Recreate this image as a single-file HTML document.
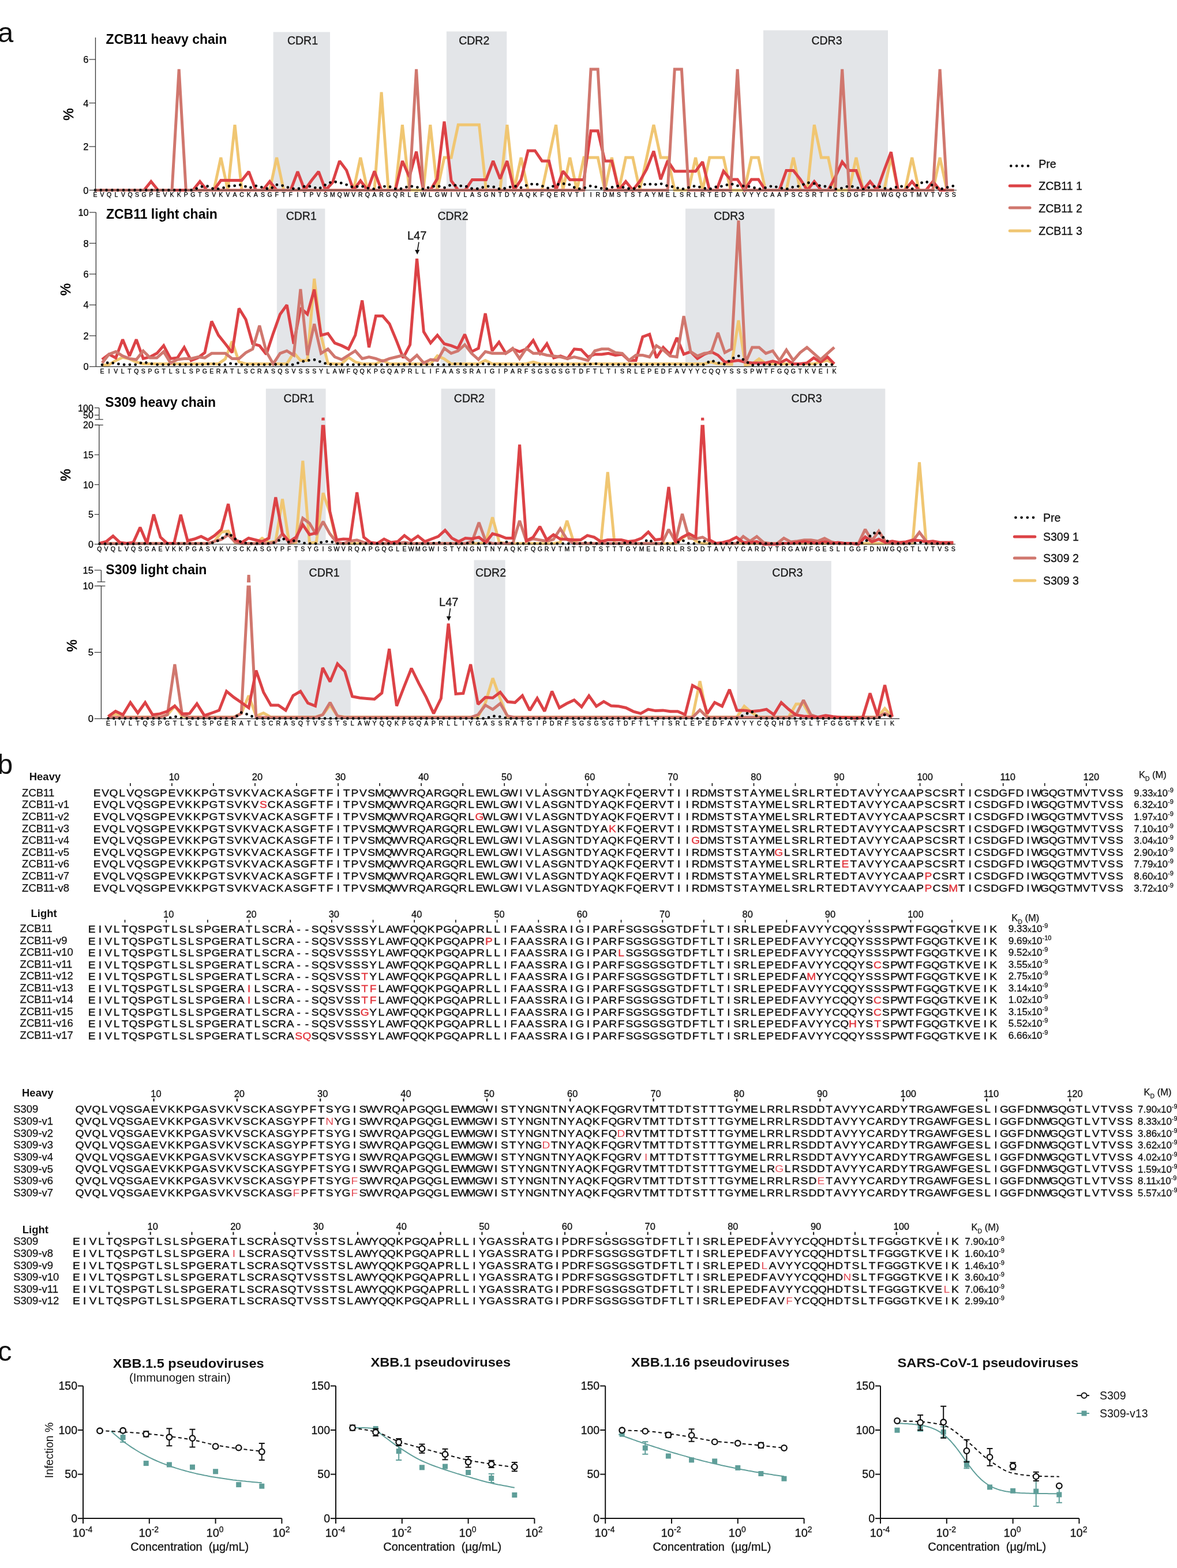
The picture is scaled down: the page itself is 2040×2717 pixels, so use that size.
<!DOCTYPE html>
<html><head><meta charset="utf-8"><title>Figure</title>
<style>
html,body{margin:0;padding:0;background:#fff;}
svg{display:block;}
text{font-family:"Liberation Sans",Arial,Helvetica,sans-serif;}
</style></head><body>
<svg width="2040" height="2717" viewBox="0 0 2040 2717">
<rect width="2040" height="2717" fill="#fff"/>
<text x="-4" y="72.6" font-size="49" fill="#111" >a</text>
<rect x="473.6" y="55.5" width="98.4" height="274" fill="#e3e5e8"/>
<text x="524.5" y="76.7" font-size="19.5" text-anchor="middle" fill="#1a1a1a" stroke="#1a1a1a" stroke-width="0.3">CDR1</text>
<rect x="773.9" y="54.5" width="104.4" height="275" fill="#e3e5e8"/>
<text x="821.7" y="76.7" font-size="19.5" text-anchor="middle" fill="#1a1a1a" stroke="#1a1a1a" stroke-width="0.3">CDR2</text>
<rect x="1323" y="52.5" width="216" height="277" fill="#e3e5e8"/>
<text x="1433" y="76.7" font-size="19.5" text-anchor="middle" fill="#1a1a1a" stroke="#1a1a1a" stroke-width="0.3">CDR3</text>
<polyline points="165,329.5 177.1,329.5 189.2,329.5 201.3,329.5 213.4,329.5 225.5,329.5 237.6,329.5 249.7,329.5 261.8,329.5 273.9,329.5 286,329.5 298.1,329.5 310.2,329.5 322.3,329.5 334.4,329.5 346.5,329.5 358.6,329.5 370.7,329.5 382.8,272.9 394.9,329.5 407,216.2 419.1,329.5 431.2,329.5 443.3,329.5 455.4,329.5 467.5,329.5 479.6,272.9 491.7,329.5 503.8,329.5 515.9,329.5 528,329.5 540.1,329.5 552.2,329.5 564.3,329.5 576.4,329.5 588.5,329.5 600.6,329.5 612.7,329.5 624.8,272.9 636.9,329.5 649,329.5 661.1,159.6 673.2,329.5 685.3,329.5 697.4,216.2 709.5,329.5 721.6,329.5 733.7,329.5 745.8,216.2 757.9,329.5 770,272.9 782.1,272.9 794.2,216.2 806.3,216.2 818.4,216.2 830.5,216.2 842.6,329.5 854.7,329.5 866.8,329.5 878.9,216.2 891,329.5 903.1,272.9 915.2,329.5 927.3,329.5 939.4,329.5 951.5,272.9 963.6,216.2 975.7,329.5 987.8,272.9 999.9,329.5 1012,272.9 1024.1,272.9 1036.2,272.9 1048.3,329.5 1060.4,272.9 1072.5,329.5 1084.6,272.9 1096.7,272.9 1108.8,329.5 1120.9,272.9 1133,216.2 1145.1,272.9 1157.2,272.9 1169.3,329.5 1181.4,329.5 1193.5,329.5 1205.6,272.9 1217.7,329.5 1229.8,272.9 1241.9,272.9 1254,272.9 1266.1,329.5 1278.2,329.5 1290.3,329.5 1302.4,272.9 1314.5,272.9 1326.6,329.5 1338.7,329.5 1350.8,329.5 1362.9,329.5 1375,272.9 1387.1,329.5 1399.2,329.5 1411.3,216.2 1423.4,272.9 1435.5,272.9 1447.6,329.5 1459.7,329.5 1471.8,329.5 1483.9,272.9 1496,329.5 1508.1,329.5 1520.2,329.5 1532.3,329.5 1544.4,272.9 1556.5,329.5 1568.6,329.5 1580.7,272.9 1592.8,329.5 1604.9,329.5 1617,329.5 1629.1,272.9 1641.2,329.5 1653.3,329.5" fill="none" stroke="#f0c672" stroke-width="5.0" stroke-linejoin="miter" stroke-miterlimit="2" />
<polyline points="165,329.5 177.1,329.5 189.2,329.5 201.3,329.5 213.4,329.5 225.5,329.5 237.6,329.5 249.7,329.5 261.8,314.4 273.9,329.5 286,329.5 298.1,329.5 310.2,329.5 322.3,329.5 334.4,329.5 346.5,314.4 358.6,329.5 370.7,329.5 382.8,312.5 394.9,312.5 407,312.5 419.1,312.5 431.2,297.4 443.3,329.5 455.4,329.5 467.5,314.4 479.6,329.5 491.7,329.5 503.8,329.5 515.9,297.4 528,329.5 540.1,312.5 552.2,297.4 564.3,329.5 576.4,316.3 588.5,278.9 600.6,295.1 612.7,329.5 624.8,313.3 636.9,329.5 649,296.7 661.1,329.5 673.2,329.5 685.3,329.5 697.4,278.9 709.5,306.5 721.6,262.7 733.7,329.5 745.8,329.5 757.9,309.9 770,210.6 782.1,313.3 794.2,329.5 806.3,329.5 818.4,311.4 830.5,311.4 842.6,311.4 854.7,278.9 866.8,309.9 878.9,278.9 891,329.5 903.1,311.4 915.2,261.2 927.3,261.2 939.4,278.9 951.5,278.9 963.6,329.5 975.7,296.7 987.8,311.4 999.9,311.4 1012,311.4 1024.1,226.8 1036.2,226.8 1048.3,278.9 1060.4,278.9 1072.5,329.5 1084.6,314.4 1096.7,329.5 1108.8,314.4 1120.9,292.9 1133,261.9 1145.1,311 1157.2,278.5 1169.3,296.7 1181.4,296.7 1193.5,296.7 1205.6,296.7 1217.7,280.4 1229.8,329.5 1241.9,329.5 1254,296.7 1266.1,311 1278.2,311 1290.3,329.5 1302.4,311 1314.5,311 1326.6,329.5 1338.7,329.5 1350.8,329.5 1362.9,295.5 1375,295.5 1387.1,310.6 1399.2,329.5 1411.3,314.4 1423.4,329.5 1435.5,329.5 1447.6,306.9 1459.7,280.4 1471.8,295.5 1483.9,295.5 1496,329.5 1508.1,314.4 1520.2,329.5 1532.3,295.5 1544.4,263.4 1556.5,329.5 1568.6,329.5 1580.7,314.4 1592.8,329.5 1604.9,329.5 1617,314.4 1629.1,329.5 1641.2,329.5 1653.3,329.5" fill="none" stroke="#dc4246" stroke-width="5.0" stroke-linejoin="miter" stroke-miterlimit="2" />
<polyline points="165,329.5 177.1,329.5 189.2,329.5 201.3,329.5 213.4,329.5 225.5,329.5 237.6,329.5 249.7,329.5 261.8,329.5 273.9,329.5 286,329.5 298.1,329.5 310.2,120 322.3,329.5 334.4,329.5 346.5,329.5 358.6,329.5 370.7,329.5 382.8,329.5 394.9,329.5 407,329.5 419.1,329.5 431.2,329.5 443.3,329.5 455.4,329.5 467.5,329.5 479.6,329.5 491.7,329.5 503.8,329.5 515.9,329.5 528,329.5 540.1,329.5 552.2,329.5 564.3,329.5 576.4,329.5 588.5,329.5 600.6,329.5 612.7,329.5 624.8,329.5 636.9,329.5 649,329.5 661.1,329.5 673.2,329.5 685.3,329.5 697.4,329.5 709.5,329.5 721.6,120 733.7,329.5 745.8,329.5 757.9,329.5 770,329.5 782.1,329.5 794.2,329.5 806.3,329.5 818.4,329.5 830.5,329.5 842.6,329.5 854.7,329.5 866.8,329.5 878.9,329.5 891,329.5 903.1,329.5 915.2,329.5 927.3,329.5 939.4,329.5 951.5,329.5 963.6,329.5 975.7,329.5 987.8,329.5 999.9,329.5 1012,329.5 1024.1,120 1036.2,120 1048.3,329.5 1060.4,329.5 1072.5,329.5 1084.6,329.5 1096.7,329.5 1108.8,329.5 1120.9,329.5 1133,329.5 1145.1,329.5 1157.2,329.5 1169.3,120 1181.4,120 1193.5,329.5 1205.6,329.5 1217.7,329.5 1229.8,329.5 1241.9,329.5 1254,329.5 1266.1,329.5 1278.2,120 1290.3,329.5 1302.4,329.5 1314.5,329.5 1326.6,329.5 1338.7,329.5 1350.8,329.5 1362.9,329.5 1375,329.5 1387.1,329.5 1399.2,329.5 1411.3,329.5 1423.4,329.5 1435.5,329.5 1447.6,329.5 1459.7,120 1471.8,329.5 1483.9,329.5 1496,329.5 1508.1,329.5 1520.2,329.5 1532.3,329.5 1544.4,329.5 1556.5,329.5 1568.6,329.5 1580.7,329.5 1592.8,329.5 1604.9,329.5 1617,329.5 1629.1,120 1641.2,329.5 1653.3,329.5" fill="none" stroke="#d0776e" stroke-width="5.0" stroke-linejoin="miter" stroke-miterlimit="2" />
<polyline points="165,329.5 177.1,329.5 189.2,329.5 201.3,329.5 213.4,329.5 225.5,329.5 237.6,329.5 249.7,329.5 261.8,329.5 273.9,329.5 286,329.5 298.1,329.5 310.2,329.5 322.3,329.5 334.4,329.5 346.5,323.9 358.6,322.3 370.7,327.6 382.8,327.2 394.9,322.6 407,321.9 419.1,320.1 431.2,325.9 443.3,322 455.4,324.8 467.5,328 479.6,320.1 491.7,321.9 503.8,326.4 515.9,327.5 528,322.9 540.1,323 552.2,327.5 564.3,320.1 576.4,314.4 588.5,316.3 600.6,320.1 612.7,324.8 624.8,322 636.9,325.9 649,327.7 661.1,323.3 673.2,322.7 685.3,327.2 697.4,326.7 709.5,322.3 721.6,324 733.7,327.9 745.8,323.8 757.9,322 770,325.5 782.1,320.1 794.2,321.9 806.3,322.4 818.4,326.9 830.5,327 842.6,322.5 854.7,323.6 866.8,327.8 878.9,325.7 891,322 903.1,325.1 915.2,320.1 927.3,318.2 939.4,322.2 951.5,326.5 963.6,320.1 975.7,318.2 987.8,320.1 999.9,327.6 1012,326.1 1024.1,322 1036.2,324.6 1048.3,328 1060.4,324.6 1072.5,322.1 1084.6,326.1 1096.7,327.6 1108.8,323.1 1120.9,318.2 1133,320.1 1145.1,318.2 1157.2,322.2 1169.3,324.2 1181.4,328 1193.5,325 1205.6,322 1217.7,325.7 1229.8,327.8 1241.9,323.5 1254,322.5 1266.1,318.2 1278.2,321.9 1290.3,322.4 1302.4,323.7 1314.5,327.9 1326.6,325.5 1338.7,322 1350.8,325.3 1362.9,327.9 1375,323.9 1387.1,322.3 1399.2,316.3 1411.3,318.2 1423.4,322.7 1435.5,323.3 1447.6,327.7 1459.7,325.9 1471.8,322 1483.9,324.8 1496,328 1508.1,324.4 1520.2,322.1 1532.3,326.3 1544.4,327.5 1556.5,323 1568.6,323 1580.7,327.5 1592.8,318.2 1604.9,314.4 1617,321.9 1629.1,328 1641.2,324.8 1653.3,322" fill="none" stroke="#000" stroke-width="4.8" stroke-linecap="round" stroke-dasharray="0 9.8"/>
<line x1="165.5" y1="329.5" x2="1658" y2="329.5" stroke="#333" stroke-width="1.2"/>
<line x1="165.5" y1="65" x2="165.5" y2="329.5" stroke="#333" stroke-width="1.3"/>
<line x1="154.5" y1="329.5" x2="165.5" y2="329.5" stroke="#333" stroke-width="1.2"/>
<text x="153.5" y="335.5" font-size="16.5" text-anchor="end" fill="#000" stroke="#000" stroke-width="0.25">0</text>
<line x1="154.5" y1="254" x2="165.5" y2="254" stroke="#333" stroke-width="1.2"/>
<text x="153.5" y="260" font-size="16.5" text-anchor="end" fill="#000" stroke="#000" stroke-width="0.25">2</text>
<line x1="154.5" y1="178.5" x2="165.5" y2="178.5" stroke="#333" stroke-width="1.2"/>
<text x="153.5" y="184.5" font-size="16.5" text-anchor="end" fill="#000" stroke="#000" stroke-width="0.25">4</text>
<line x1="154.5" y1="103" x2="165.5" y2="103" stroke="#333" stroke-width="1.2"/>
<text x="153.5" y="109" font-size="16.5" text-anchor="end" fill="#000" stroke="#000" stroke-width="0.25">6</text>
<text x="165 177.1 189.2 201.3 213.4 225.5 237.6 249.7 261.8 273.9 286 298.1 310.2 322.3 334.4 346.5 358.6 370.7 382.8 394.9 407 419.1 431.2 443.3 455.4 467.5 479.6 491.7 503.8 515.9 528 540.1 552.2 564.3 576.4 588.5 600.6 612.7 624.8 636.9 649 661.1 673.2 685.3 697.4 709.5 721.6 733.7 745.8 757.9 770 782.1 794.2 806.3 818.4 830.5 842.6 854.7 866.8 878.9 891 903.1 915.2 927.3 939.4 951.5 963.6 975.7 987.8 999.9 1012 1024.1 1036.2 1048.3 1060.4 1072.5 1084.6 1096.7 1108.8 1120.9 1133 1145.1 1157.2 1169.3 1181.4 1193.5 1205.6 1217.7 1229.8 1241.9 1254 1266.1 1278.2 1290.3 1302.4 1314.5 1326.6 1338.7 1350.8 1362.9 1375 1387.1 1399.2 1411.3 1423.4 1435.5 1447.6 1459.7 1471.8 1483.9 1496 1508.1 1520.2 1532.3 1544.4 1556.5 1568.6 1580.7 1592.8 1604.9 1617 1629.1 1641.2 1653.3" y="341" font-size="10.5" text-anchor="middle" fill="#000" stroke="#000" stroke-width="0.3">EVQLVQSGPEVKKPGTSVKVACKASGFTFITPVSMQWVRQARGQRLEWLGWIVLASGNTDYAQKFQERVTIIRDMSTSTAYMELSRLRTEDTAVYYCAAPSCSRTICSDGFDIWGQGTMVTVSS</text>
<text x="183.6" y="75.8" font-size="23" font-weight="bold" fill="#000" >ZCB11 heavy chain</text>
<text x="0" y="0" font-size="24" text-anchor="middle" fill="#000" stroke="#000" stroke-width="0.6" transform="translate(118.3,198) rotate(-90)" dy="8.5">%</text>
<rect x="479.8" y="361.5" width="83.6" height="273.8" fill="#e3e5e8"/>
<text x="522.2" y="380.5" font-size="19.5" text-anchor="middle" fill="#1a1a1a" stroke="#1a1a1a" stroke-width="0.3">CDR1</text>
<rect x="763.4" y="361.5" width="44.6" height="273.8" fill="#e3e5e8"/>
<text x="785" y="380.5" font-size="19.5" text-anchor="middle" fill="#1a1a1a" stroke="#1a1a1a" stroke-width="0.3">CDR2</text>
<rect x="1188" y="361.5" width="154.6" height="273.8" fill="#e3e5e8"/>
<text x="1263.7" y="380.5" font-size="19.5" text-anchor="middle" fill="#1a1a1a" stroke="#1a1a1a" stroke-width="0.3">CDR3</text>
<polyline points="177,632.6 188.9,632.1 200.7,624.6 212.6,619.3 224.4,621.9 236.3,627.3 248.2,630.5 260,630.5 271.9,630.5 283.7,630.5 295.6,630.5 307.5,630.5 319.3,630.5 331.2,630.5 343,630.5 354.9,630.5 366.8,630.5 378.6,630.5 390.5,621.9 402.3,591.5 414.2,627.3 426.1,630.5 437.9,630.5 449.8,630.5 461.6,630.5 473.5,630.5 485.4,630.5 497.2,630.5 509.1,611.2 520.9,624.6 532.8,624.6 544.7,482.9 556.5,581.8 568.4,630 580.2,630.5 592.1,630.5 604,619.3 615.8,627.3 627.7,630.5 639.5,630.5 651.4,630.5 663.3,624.6 675.1,630.5 687,630.5 698.8,630.5 710.7,630.5 722.6,630.5 734.4,630.5 746.3,630.5 758.1,616.6 770,621.9 781.9,630.5 793.7,630.5 805.6,630.5 817.4,630.5 829.3,630.5 841.2,624.6 853,630.5 864.9,630.5 876.7,630.5 888.6,630.5 900.5,630.5 912.3,630.5 924.2,627.3 936,630.5 947.9,630.5 959.8,630.5 971.6,630.5 983.5,630.5 995.3,630.5 1007.2,630.5 1019.1,630.5 1030.9,630.5 1042.8,630.5 1054.6,630.5 1066.5,630.5 1078.4,630.5 1090.2,630.5 1102.1,630.5 1113.9,630.5 1125.8,630.5 1137.7,630.5 1149.5,630.5 1161.4,630.5 1173.2,630.5 1185.1,630.5 1197,630.5 1208.8,630.5 1220.7,630.5 1232.5,627.3 1244.4,630.5 1256.3,630.5 1268.1,631.3 1280,555.1 1291.8,632.6 1303.7,630.5 1315.6,621.9 1327.4,630 1339.3,630.5 1351.1,630.5 1363,630.5 1374.9,630.5 1386.7,630.5 1398.6,630.5 1410.4,630.5 1422.3,627.3 1434.2,624.6 1446,630.5" fill="none" stroke="#f0c672" stroke-width="5.0" stroke-linejoin="miter" stroke-miterlimit="2" />
<polyline points="177,623 188.9,613.9 200.7,620.1 212.6,588.3 224.4,616.9 236.3,588.3 248.2,621.4 260,618.5 271.9,612.3 283.7,598.9 295.6,621.4 307.5,620.1 319.3,601.9 331.2,624.6 343,620.1 354.9,611 366.8,556.7 378.6,580.8 390.5,595.7 402.3,611 414.2,534.3 426.1,553.8 437.9,595.7 449.8,598.9 461.6,613.9 473.5,577.8 485.4,544.7 497.2,528.4 509.1,595.7 520.9,533.7 532.8,544.4 544.7,501.6 556.5,580.8 568.4,577.8 580.2,594.4 592.1,598.9 604,604.8 615.8,580.8 627.7,520.6 639.5,601.9 651.4,547.6 663.3,547.6 675.1,561.3 687,589.9 698.8,620.1 710.7,597.3 722.6,448.2 734.4,574.9 746.3,594.4 758.1,580.8 770,595.7 781.9,598.9 793.7,603.5 805.6,579.4 817.4,609.4 829.3,603.5 841.2,543.1 853,608 864.9,592.8 876.7,612.3 888.6,604.8 900.5,609.4 912.3,604.8 924.2,589.9 936,612.3 947.9,595.7 959.8,620.1 971.6,616.9 983.5,621.4 995.3,604.8 1007.2,605.9 1019.1,618.5 1030.9,613.9 1042.8,613.9 1054.6,612.3 1066.5,615.5 1078.4,613.9 1090.2,624.6 1102.1,624.6 1113.9,583.7 1125.8,579.2 1137.7,620.1 1149.5,601.9 1161.4,613.9 1173.2,585.3 1185.1,613.9 1197,609.4 1208.8,621.4 1220.7,613.9 1232.5,609.4 1244.4,615.5 1256.3,627.5 1268.1,625.9 1280,624.6 1291.8,627.5 1303.7,628.9 1315.6,628.9 1327.4,628.9 1339.3,625.9 1351.1,628.9 1363,623 1374.9,630.5 1386.7,630.5 1398.6,628.9 1410.4,620.1 1422.3,627.5 1434.2,618.5 1446,630.5" fill="none" stroke="#dc4246" stroke-width="5.0" stroke-linejoin="miter" stroke-miterlimit="2" />
<polyline points="177,628.9 188.9,613.9 200.7,609.4 212.6,616.9 224.4,621.4 236.3,623 248.2,608 260,620.1 271.9,620.1 283.7,609.4 295.6,628.9 307.5,623 319.3,621.4 331.2,621.4 343,618.5 354.9,620.1 366.8,612.3 378.6,612.3 390.5,612.3 402.3,621.4 414.2,621.4 426.1,611 437.9,604.8 449.8,564.2 461.6,609.4 473.5,630.5 485.4,612.3 497.2,608 509.1,615.5 520.9,501.1 532.8,615.5 544.7,561.3 556.5,612.3 568.4,604.8 580.2,618.5 592.1,623 604,615.5 615.8,608 627.7,621.4 639.5,618.5 651.4,621.4 663.3,625.9 675.1,621.4 687,618.5 698.8,615.5 710.7,625.9 722.6,615.5 734.4,628.9 746.3,623 758.1,624.6 770,603.5 781.9,612.3 793.7,608 805.6,597.3 817.4,612.3 829.3,623 841.2,609.4 853,612.3 864.9,612.3 876.7,612.3 888.6,603.5 900.5,621.4 912.3,603.5 924.2,612.3 936,612.3 947.9,615.5 959.8,616.9 971.6,618.5 983.5,621.4 995.3,618.5 1007.2,621.4 1019.1,624.6 1030.9,608 1042.8,604.8 1054.6,604.8 1066.5,611 1078.4,612.3 1090.2,624.6 1102.1,615.5 1113.9,615.5 1125.8,618.5 1137.7,598.9 1149.5,606.4 1161.4,616.9 1173.2,618.5 1185.1,547.6 1197,609.4 1208.8,616.9 1220.7,612.3 1232.5,611.2 1244.4,576.5 1256.3,611 1268.1,604.8 1280,382.2 1291.8,628.9 1303.7,601.9 1315.6,601.9 1327.4,612.3 1339.3,608 1351.1,624.6 1363,606.4 1374.9,624.6 1386.7,611 1398.6,601.9 1410.4,612.3 1422.3,623 1434.2,612.3 1446,601.9" fill="none" stroke="#d0776e" stroke-width="5.0" stroke-linejoin="miter" stroke-miterlimit="2" />
<polyline points="177,632.1 188.9,627.8 200.7,630 212.6,631.8 224.4,631.8 236.3,631.8 248.2,627.3 260,630 271.9,631.8 283.7,631.8 295.6,631.8 307.5,631.8 319.3,631.8 331.2,631.8 343,631.8 354.9,631.8 366.8,630 378.6,631.8 390.5,631.8 402.3,629.4 414.2,631.8 426.1,631.8 437.9,631.8 449.8,631.8 461.6,631.8 473.5,631.3 485.4,631.8 497.2,631.8 509.1,631.8 520.9,627.3 532.8,624.6 544.7,623.3 556.5,627.3 568.4,631.3 580.2,631.8 592.1,631.8 604,631.8 615.8,631.8 627.7,631.8 639.5,631.8 651.4,631.8 663.3,631.8 675.1,631.8 687,631.8 698.8,631.8 710.7,631.3 722.6,631.8 734.4,631.8 746.3,631.8 758.1,631.8 770,631.8 781.9,631.8 793.7,630 805.6,631.8 817.4,631.8 829.3,631.8 841.2,630 853,631.8 864.9,631.8 876.7,631.8 888.6,631.8 900.5,631.8 912.3,631.8 924.2,631.8 936,631.8 947.9,631.8 959.8,631.8 971.6,631.8 983.5,631.8 995.3,631.8 1007.2,631.8 1019.1,631.8 1030.9,630 1042.8,631.8 1054.6,631.8 1066.5,631.8 1078.4,631.8 1090.2,631.8 1102.1,631.8 1113.9,631.8 1125.8,631.8 1137.7,631.8 1149.5,631.8 1161.4,631.8 1173.2,631.8 1185.1,631.8 1197,631.8 1208.8,631.8 1220.7,631.8 1232.5,624.6 1244.4,628.6 1256.3,631.3 1268.1,621.9 1280,616.6 1291.8,625.9 1303.7,632.6 1315.6,631.8 1327.4,631.8 1339.3,631.8 1351.1,631.8 1363,631.8 1374.9,631.8 1386.7,631.8 1398.6,631.8 1410.4,631.8 1422.3,631.8 1434.2,631.8 1446,631.8" fill="none" stroke="#000" stroke-width="4.8" stroke-linecap="round" stroke-dasharray="0 9.8"/>
<line x1="166.4" y1="635.3" x2="1450" y2="635.3" stroke="#333" stroke-width="1.2"/>
<line x1="166.4" y1="368" x2="166.4" y2="635.3" stroke="#333" stroke-width="1.3"/>
<line x1="154.9" y1="635.3" x2="166.4" y2="635.3" stroke="#333" stroke-width="1.2"/>
<text x="153.8" y="641.3" font-size="16.5" text-anchor="end" fill="#000" stroke="#000" stroke-width="0.25">0</text>
<line x1="154.9" y1="581.8" x2="166.4" y2="581.8" stroke="#333" stroke-width="1.2"/>
<text x="153.8" y="587.8" font-size="16.5" text-anchor="end" fill="#000" stroke="#000" stroke-width="0.25">2</text>
<line x1="154.9" y1="528.4" x2="166.4" y2="528.4" stroke="#333" stroke-width="1.2"/>
<text x="153.8" y="534.4" font-size="16.5" text-anchor="end" fill="#000" stroke="#000" stroke-width="0.25">4</text>
<line x1="154.9" y1="474.9" x2="166.4" y2="474.9" stroke="#333" stroke-width="1.2"/>
<text x="153.8" y="480.9" font-size="16.5" text-anchor="end" fill="#000" stroke="#000" stroke-width="0.25">6</text>
<line x1="154.9" y1="421.5" x2="166.4" y2="421.5" stroke="#333" stroke-width="1.2"/>
<text x="153.8" y="427.5" font-size="16.5" text-anchor="end" fill="#000" stroke="#000" stroke-width="0.25">8</text>
<line x1="154.9" y1="368" x2="166.4" y2="368" stroke="#333" stroke-width="1.2"/>
<text x="153.8" y="374" font-size="16.5" text-anchor="end" fill="#000" stroke="#000" stroke-width="0.25">10</text>
<text x="177 188.9 200.7 212.6 224.4 236.3 248.2 260 271.9 283.7 295.6 307.5 319.3 331.2 343 354.9 366.8 378.6 390.5 402.3 414.2 426.1 437.9 449.8 461.6 473.5 485.4 497.2 509.1 520.9 532.8 544.7 556.5 568.4 580.2 592.1 604 615.8 627.7 639.5 651.4 663.3 675.1 687 698.8 710.7 722.6 734.4 746.3 758.1 770 781.9 793.7 805.6 817.4 829.3 841.2 853 864.9 876.7 888.6 900.5 912.3 924.2 936 947.9 959.8 971.6 983.5 995.3 1007.2 1019.1 1030.9 1042.8 1054.6 1066.5 1078.4 1090.2 1102.1 1113.9 1125.8 1137.7 1149.5 1161.4 1173.2 1185.1 1197 1208.8 1220.7 1232.5 1244.4 1256.3 1268.1 1280 1291.8 1303.7 1315.6 1327.4 1339.3 1351.1 1363 1374.9 1386.7 1398.6 1410.4 1422.3 1434.2 1446" y="646.8" font-size="10.5" text-anchor="middle" fill="#000" stroke="#000" stroke-width="0.3">EIVLTQSPGTLSLSPGERATLSCRASQSVSSSYLAWFQQKPGQAPRLLIFAASSRAIGIPARFSGSGSGTDFTLTISRLEPEDFAVYYCQQYSSSPWTFGQGTKVEIK</text>
<text x="183.9" y="379" font-size="23" font-weight="bold" fill="#000" >ZCB11 light chain</text>
<text x="0" y="0" font-size="24" text-anchor="middle" fill="#000" stroke="#000" stroke-width="0.6" transform="translate(113.1,501.5) rotate(-90)" dy="8.5">%</text>
<text x="722.7" y="414.7" font-size="20" text-anchor="middle" fill="#111" stroke="#111" stroke-width="0.3">L47</text>
<line x1="726" y1="419.5" x2="723.2" y2="436" stroke="#111" stroke-width="1.6"/>
<path d="M723.2,441 l-4,-8 l8,0 z" fill="#111"/>
<rect x="460.8" y="673.5" width="103.8" height="269.5" fill="#e3e5e8"/>
<text x="518" y="696.5" font-size="19.5" text-anchor="middle" fill="#1a1a1a" stroke="#1a1a1a" stroke-width="0.3">CDR1</text>
<rect x="764.6" y="673.5" width="93.6" height="269.5" fill="#e3e5e8"/>
<text x="813.4" y="696.5" font-size="19.5" text-anchor="middle" fill="#1a1a1a" stroke="#1a1a1a" stroke-width="0.3">CDR2</text>
<rect x="1276.3" y="673.5" width="258" height="269.5" fill="#e3e5e8"/>
<text x="1398" y="696.5" font-size="19.5" text-anchor="middle" fill="#1a1a1a" stroke="#1a1a1a" stroke-width="0.3">CDR3</text>
<clipPath id="cp3"><rect x="0" y="0" width="2040" height="728.6"/><rect x="0" y="736.3" width="2040" height="1000"/></clipPath>
<g clip-path="url(#cp3)">
<polyline points="172.4,941.8 184.1,941.8 195.9,941.8 207.6,941.8 219.4,941.8 231.1,941.8 242.9,941.8 254.6,941.8 266.4,941.8 278.1,941.8 289.9,941.8 301.6,941.8 313.3,941.8 325.1,941.8 336.8,941.8 348.6,941.8 360.3,941.8 372.1,937.8 383.8,921.9 395.6,920.3 407.3,939.9 419,941.8 430.8,941.8 442.5,941.8 454.3,932.7 466,939.9 477.8,937.8 489.5,864.7 501.3,941.5 513,939.9 524.8,798.4 536.5,940.9 548.2,939.9 560,854.2 571.7,888.3 583.5,940.9 595.2,941.8 607,941.8 618.7,941.8 630.5,941.8 642.2,941.8 653.9,941.8 665.7,941.8 677.4,941.8 689.2,941.8 700.9,941.8 712.7,941.8 724.4,941.8 736.2,941.8 747.9,941.8 759.6,941.8 771.4,941.8 783.1,941.8 794.9,941.8 806.6,941.8 818.4,941.8 830.1,941.8 841.9,939.9 853.6,896.5 865.4,939.9 877.1,941.8 888.8,941.8 900.6,941.8 912.3,941.8 924.1,941.8 935.8,941.8 947.6,941.8 959.3,941.8 971.1,939.9 982.8,902.3 994.5,939.9 1006.3,941.8 1018,941.8 1029.8,941.8 1041.5,940.9 1053.3,818 1065,940.9 1076.8,941.8 1088.5,941.8 1100.3,941.8 1112,941.8 1123.7,941.8 1135.5,941.8 1147.2,941.8 1159,941.8 1170.7,941.8 1182.5,932.7 1194.2,924.9 1206,937.8 1217.7,941.8 1229.5,941.8 1241.2,941.8 1252.9,941.8 1264.7,941.8 1276.4,941.8 1288.2,941.8 1299.9,941.8 1311.7,941.8 1323.4,941.8 1335.2,941.8 1346.9,941.8 1358.6,941.8 1370.4,941.8 1382.1,941.8 1393.9,941.8 1405.6,941.8 1417.4,941.8 1429.1,941.8 1440.9,941.8 1452.6,941.8 1464.3,941.8 1476.1,941.8 1487.8,941.8 1499.6,941.8 1511.3,941.8 1523.1,941.8 1534.8,941.8 1546.6,941.8 1558.3,941.8 1570.1,941.8 1581.8,940.9 1593.5,801 1605.3,940.9 1617,941.8 1628.8,941.8 1640.5,941.8 1652.3,941.8" fill="none" stroke="#f0c672" stroke-width="5.0" stroke-linejoin="miter" stroke-miterlimit="2" />
<polyline points="172.4,941.8 184.1,941.8 195.9,941.8 207.6,941.8 219.4,941.8 231.1,941.8 242.9,941.8 254.6,941.8 266.4,941.8 278.1,941.8 289.9,941.8 301.6,941.8 313.3,941.8 325.1,941.8 336.8,941.8 348.6,941.8 360.3,941.8 372.1,937.8 383.8,934.7 395.6,926.5 407.3,938.9 419,941.8 430.8,941.8 442.5,941.8 454.3,941.8 466,941.8 477.8,938.9 489.5,924.9 501.3,940.9 513,936.8 524.8,897.9 536.5,906.8 548.2,926.5 560,903.7 571.7,924.9 583.5,939.9 595.2,941.8 607,937.8 618.7,935.8 630.5,939.9 642.2,941.8 653.9,941.8 665.7,941.8 677.4,941.8 689.2,941.8 700.9,939.9 712.7,941.8 724.4,941.8 736.2,941.8 747.9,941.8 759.6,941.8 771.4,941.8 783.1,941.8 794.9,941.8 806.6,941.8 818.4,937.8 830.1,905.4 841.9,937.8 853.6,941.8 865.4,941.8 877.1,941.8 888.8,941.8 900.6,902.3 912.3,937.8 924.1,933.7 935.8,935.8 947.6,937.8 959.3,934.7 971.1,916.1 982.8,934.7 994.5,941.8 1006.3,941.8 1018,941.8 1029.8,941.8 1041.5,941.8 1053.3,941.8 1065,941.8 1076.8,941.8 1088.5,941.8 1100.3,941.8 1112,941.8 1123.7,941.8 1135.5,941.8 1147.2,941.8 1159,917.4 1170.7,938.9 1182.5,890.3 1194.2,932.7 1206,933.7 1217.7,930.9 1229.5,937.8 1241.2,941.8 1252.9,941.8 1264.7,941.8 1276.4,941.8 1288.2,929.6 1299.9,937.8 1311.7,929.6 1323.4,939.9 1335.2,941.8 1346.9,941.8 1358.6,932.5 1370.4,938.9 1382.1,937.8 1393.9,935.8 1405.6,935.8 1417.4,937.8 1429.1,932.7 1440.9,938.9 1452.6,941.8 1464.3,941.8 1476.1,941.8 1487.8,941.8 1499.6,917.2 1511.3,936.8 1523.1,920.3 1534.8,938.9 1546.6,941.8 1558.3,941.8 1570.1,941.8 1581.8,937.8 1593.5,922.3 1605.3,937.8 1617,941.8 1628.8,941.8 1640.5,941.8 1652.3,941.8" fill="none" stroke="#d0776e" stroke-width="5.0" stroke-linejoin="miter" stroke-miterlimit="2" />
<polyline points="172.4,941.5 184.1,938.5 195.9,928.8 207.6,939.9 219.4,941.5 231.1,939.9 242.9,913.8 254.6,941.5 266.4,891.4 278.1,930.9 289.9,941.5 301.6,941.5 313.3,891.8 325.1,937 336.8,934 348.6,929.5 360.3,935.5 372.1,927.9 383.8,917.4 395.6,873.2 407.3,935.5 419,939.9 430.8,932.5 442.5,935.5 454.3,938.5 466,932.5 477.8,861.7 489.5,924.9 501.3,938.5 513,930.9 524.8,909.2 536.5,926.5 548.2,923.4 560,723.8 571.7,886.2 583.5,935.5 595.2,934 607,934.5 618.7,853.1 630.5,930.9 642.2,939.9 653.9,941.5 665.7,934 677.4,939.9 689.2,938.5 700.9,927.9 712.7,937 724.4,928.8 736.2,938.5 747.9,934 759.6,929.5 771.4,918.9 783.1,932.5 794.9,938.5 806.6,932.5 818.4,933.4 830.1,930.9 841.9,939.9 853.6,924.9 865.4,927.9 877.1,932.5 888.8,932.5 900.6,770.5 912.3,937 924.1,930.9 935.8,912.3 947.6,935.5 959.3,926.5 971.1,934 982.8,934.5 994.5,935.5 1006.3,935.5 1018,927.9 1029.8,930.9 1041.5,938.5 1053.3,935.5 1065,935.5 1076.8,935.5 1088.5,938.5 1100.3,937 1112,932.5 1123.7,921.9 1135.5,935.5 1147.2,934 1159,843.8 1170.7,939.9 1182.5,930.9 1194.2,924.9 1206,930.9 1217.7,723.8 1229.5,935.5 1241.2,941.5 1252.9,939.9 1264.7,937 1276.4,930.9 1288.2,939.9 1299.9,939.9 1311.7,938.5 1323.4,943 1335.2,943 1346.9,943 1358.6,941.5 1370.4,941.5 1382.1,939.9 1393.9,938.5 1405.6,939.9 1417.4,941.5 1429.1,938.5 1440.9,941.5 1452.6,939.9 1464.3,941.5 1476.1,941.5 1487.8,943 1499.6,930.3 1511.3,938.9 1523.1,934.2 1534.8,939.9 1546.6,937.8 1558.3,939.9 1570.1,938.9 1581.8,935.8 1593.5,936.8 1605.3,938.9 1617,937.8 1628.8,939.9 1640.5,939.9 1652.3,939.9" fill="none" stroke="#dc4246" stroke-width="5.0" stroke-linejoin="miter" stroke-miterlimit="2" />
<polyline points="172.4,942.5 184.1,942.5 195.9,942.5 207.6,942.5 219.4,942.5 231.1,942.5 242.9,942 254.6,942 266.4,942 278.1,942 289.9,942 301.6,942 313.3,942 325.1,942 336.8,942 348.6,942 360.3,942 372.1,939.9 383.8,933.7 395.6,923.4 407.3,933.7 419,939.9 430.8,942 442.5,942 454.3,942 466,942 477.8,939.9 489.5,932.7 501.3,939.9 513,935.8 524.8,940.9 536.5,942 548.2,942 560,938.9 571.7,937.8 583.5,942 595.2,942 607,942 618.7,942 630.5,942 642.2,942 653.9,942 665.7,942 677.4,942 689.2,942 700.9,942 712.7,942 724.4,942 736.2,942 747.9,942 759.6,939.9 771.4,942 783.1,942 794.9,942 806.6,942 818.4,939.9 830.1,942 841.9,942 853.6,942 865.4,942 877.1,938.9 888.8,942 900.6,942 912.3,942 924.1,942 935.8,942 947.6,942 959.3,942 971.1,942 982.8,942 994.5,942 1006.3,942 1018,939.4 1029.8,942 1041.5,942 1053.3,942 1065,942 1076.8,942 1088.5,939.9 1100.3,942 1112,942 1123.7,934.7 1135.5,942 1147.2,942 1159,942 1170.7,942 1182.5,936.1 1194.2,942 1206,942 1217.7,936.4 1229.5,942 1241.2,942 1252.9,942 1264.7,942 1276.4,939.9 1288.2,942 1299.9,942 1311.7,942 1323.4,942 1335.2,942 1346.9,942 1358.6,942 1370.4,942 1382.1,942 1393.9,942 1405.6,942 1417.4,942 1429.1,942 1440.9,942 1452.6,942 1464.3,942 1476.1,942 1487.8,942 1499.6,939.9 1511.3,924.4 1523.1,922.3 1534.8,935.8 1546.6,942 1558.3,942 1570.1,942 1581.8,942 1593.5,939.9 1605.3,942 1617,942 1628.8,942 1640.5,942 1652.3,942" fill="none" stroke="#000" stroke-width="4.8" stroke-linecap="round" stroke-dasharray="0 9.8"/>
</g>
<line x1="171.8" y1="943" x2="1656" y2="943" stroke="#333" stroke-width="1.2"/>
<line x1="171.8" y1="706.7" x2="171.8" y2="726.8" stroke="#333" stroke-width="1.3"/>
<line x1="171.8" y1="736.5" x2="171.8" y2="943" stroke="#333" stroke-width="1.3"/>
<line x1="163.8" y1="943" x2="171.8" y2="943" stroke="#333" stroke-width="1.2"/>
<text x="161.8" y="949" font-size="16" text-anchor="end" fill="#000" stroke="#000" stroke-width="0.25">0</text>
<line x1="163.8" y1="891.4" x2="171.8" y2="891.4" stroke="#333" stroke-width="1.2"/>
<text x="161.8" y="897.4" font-size="16" text-anchor="end" fill="#000" stroke="#000" stroke-width="0.25">5</text>
<line x1="163.8" y1="839.7" x2="171.8" y2="839.7" stroke="#333" stroke-width="1.2"/>
<text x="161.8" y="845.7" font-size="16" text-anchor="end" fill="#000" stroke="#000" stroke-width="0.25">10</text>
<line x1="163.8" y1="788" x2="171.8" y2="788" stroke="#333" stroke-width="1.2"/>
<text x="161.8" y="794" font-size="16" text-anchor="end" fill="#000" stroke="#000" stroke-width="0.25">15</text>
<line x1="163.8" y1="736.4" x2="171.8" y2="736.4" stroke="#333" stroke-width="1.2"/>
<text x="161.8" y="742.4" font-size="16" text-anchor="end" fill="#000" stroke="#000" stroke-width="0.25">20</text>
<line x1="163.8" y1="719.3" x2="171.8" y2="719.3" stroke="#333" stroke-width="1.2"/>
<text x="161.8" y="725.3" font-size="16" text-anchor="end" fill="#000" stroke="#000" stroke-width="0.25">50</text>
<line x1="163.8" y1="706.7" x2="171.8" y2="706.7" stroke="#333" stroke-width="1.2"/>
<text x="161.8" y="712.7" font-size="16" text-anchor="end" fill="#000" stroke="#000" stroke-width="0.25">100</text>
<line x1="164.8" y1="726.8" x2="178.8" y2="726.8" stroke="#333" stroke-width="1.2"/>
<line x1="164.8" y1="736.5" x2="178.8" y2="736.5" stroke="#333" stroke-width="1.2"/>
<text x="172.4 184.1 195.9 207.6 219.4 231.1 242.9 254.6 266.4 278.1 289.9 301.6 313.3 325.1 336.8 348.6 360.3 372.1 383.8 395.6 407.3 419 430.8 442.5 454.3 466 477.8 489.5 501.3 513 524.8 536.5 548.2 560 571.7 583.5 595.2 607 618.7 630.5 642.2 653.9 665.7 677.4 689.2 700.9 712.7 724.4 736.2 747.9 759.6 771.4 783.1 794.9 806.6 818.4 830.1 841.9 853.6 865.4 877.1 888.8 900.6 912.3 924.1 935.8 947.6 959.3 971.1 982.8 994.5 1006.3 1018 1029.8 1041.5 1053.3 1065 1076.8 1088.5 1100.3 1112 1123.7 1135.5 1147.2 1159 1170.7 1182.5 1194.2 1206 1217.7 1229.5 1241.2 1252.9 1264.7 1276.4 1288.2 1299.9 1311.7 1323.4 1335.2 1346.9 1358.6 1370.4 1382.1 1393.9 1405.6 1417.4 1429.1 1440.9 1452.6 1464.3 1476.1 1487.8 1499.6 1511.3 1523.1 1534.8 1546.6 1558.3 1570.1 1581.8 1593.5 1605.3 1617 1628.8 1640.5 1652.3" y="954.5" font-size="10.5" text-anchor="middle" fill="#000" stroke="#000" stroke-width="0.3">QVQLVQSGAEVKKPGASVKVSCKASGYPFTSYGISWVRQAPGQGLEWMGWISTYNGNTNYAQKFQGRVTMTTDTSTTTGYMELRRLRSDDTAVYYCARDYTRGAWFGESLIGGFDNWGQGTLVTVSS</text>
<text x="182.3" y="705" font-size="23" font-weight="bold" fill="#000" >S309 heavy chain</text>
<text x="0" y="0" font-size="24" text-anchor="middle" fill="#000" stroke="#000" stroke-width="0.6" transform="translate(113.1,823) rotate(-90)" dy="8.5">%</text>
<rect x="516.5" y="970.5" width="91.2" height="274.9" fill="#e3e5e8"/>
<text x="562.1" y="998.5" font-size="19.5" text-anchor="middle" fill="#1a1a1a" stroke="#1a1a1a" stroke-width="0.3">CDR1</text>
<rect x="821.5" y="970.5" width="54.1" height="274.9" fill="#e3e5e8"/>
<text x="850.5" y="998.5" font-size="19.5" text-anchor="middle" fill="#1a1a1a" stroke="#1a1a1a" stroke-width="0.3">CDR2</text>
<rect x="1277.5" y="972" width="163.3" height="273.4" fill="#e3e5e8"/>
<text x="1364.9" y="998.5" font-size="19.5" text-anchor="middle" fill="#1a1a1a" stroke="#1a1a1a" stroke-width="0.3">CDR3</text>
<clipPath id="cp4"><rect x="0" y="0" width="2040" height="1009.3"/><rect x="0" y="1014.6" width="2040" height="1000"/></clipPath>
<g clip-path="url(#cp4)">
<polyline points="187.5,1242.6 200.3,1236.2 213.1,1242.6 226,1242.6 238.8,1242.6 251.6,1242.6 264.4,1242.6 277.2,1242.6 290.1,1238.5 302.9,1223.3 315.7,1240.8 328.5,1242.6 341.3,1242.6 354.2,1242.6 367,1242.6 379.8,1242.6 392.6,1242.6 405.4,1242.6 418.3,1236.2 431.1,1205.4 443.9,1240.8 456.7,1235.5 469.5,1242.6 482.4,1242.6 495.2,1242.6 508,1242.6 520.8,1242.6 533.6,1242.6 546.5,1242.6 559.3,1238.5 572.1,1221.9 584.9,1240.8 597.7,1242.6 610.6,1242.6 623.4,1242.6 636.2,1242.6 649,1242.6 661.8,1242.6 674.7,1242.6 687.5,1242.6 700.3,1242.6 713.1,1242.6 725.9,1242.6 738.8,1242.6 751.6,1242.6 764.4,1242.6 777.2,1242.6 790,1242.6 802.9,1242.6 815.7,1242.6 828.5,1242 841.3,1217.8 854.1,1175.2 867,1210.9 879.8,1243.1 892.6,1242.6 905.4,1242.6 918.2,1242.6 931.1,1242.6 943.9,1242.6 956.7,1242.6 969.5,1242.6 982.3,1242.6 995.2,1242.6 1008,1242.6 1020.8,1242.6 1033.6,1242.6 1046.4,1242.6 1059.3,1242.6 1072.1,1242.6 1084.9,1242.6 1097.7,1242.6 1110.5,1242.6 1123.4,1242.6 1136.2,1242.6 1149,1242.6 1161.8,1242.6 1174.6,1242.6 1187.5,1242.6 1200.3,1242.6 1213.1,1180.3 1225.9,1242.6 1238.7,1242.6 1251.6,1242.6 1264.4,1242.6 1277.2,1242.6 1290,1223.8 1302.8,1234.6 1315.7,1242.6 1328.5,1242.6 1341.3,1242.6 1354.1,1242.6 1366.9,1242.6 1379.8,1220.1 1392.6,1220.1 1405.4,1242.6 1418.2,1242.6 1431,1242.6 1443.9,1242.6 1456.7,1242.6 1469.5,1242.6 1482.3,1242.6 1495.1,1242.6 1508,1242.6 1520.8,1242.6 1533.6,1227.5 1546.4,1242.6" fill="none" stroke="#f0c672" stroke-width="5.0" stroke-linejoin="miter" stroke-miterlimit="2" />
<polyline points="187.5,1243.1 200.3,1243.1 213.1,1243.1 226,1243.1 238.8,1243.1 251.6,1243.1 264.4,1243.1 277.2,1243.1 290.1,1238.5 302.9,1151.1 315.7,1238.5 328.5,1243.1 341.3,1243.1 354.2,1243.1 367,1243.1 379.8,1243.1 392.6,1243.1 405.4,1243.1 418.3,1236.2 431.1,996.1 443.9,1243.1 456.7,1243.1 469.5,1243.1 482.4,1243.1 495.2,1243.1 508,1243.1 520.8,1243.1 533.6,1243.1 546.5,1243.1 559.3,1238.5 572.1,1217.3 584.9,1240.8 597.7,1243.1 610.6,1243.1 623.4,1243.1 636.2,1243.1 649,1243.1 661.8,1243.1 674.7,1243.1 687.5,1243.1 700.3,1243.1 713.1,1243.1 725.9,1243.1 738.8,1243.1 751.6,1243.1 764.4,1243.1 777.2,1243.1 790,1243.1 802.9,1243.1 815.7,1243.1 828.5,1238.5 841.3,1221.9 854.1,1229.3 867,1219 879.8,1240.8 892.6,1243.1 905.4,1243.1 918.2,1243.1 931.1,1243.1 943.9,1243.1 956.7,1243.1 969.5,1243.1 982.3,1243.1 995.2,1243.1 1008,1243.1 1020.8,1243.1 1033.6,1243.1 1046.4,1243.1 1059.3,1243.1 1072.1,1243.1 1084.9,1243.1 1097.7,1243.1 1110.5,1243.1 1123.4,1243.1 1136.2,1243.1 1149,1243.1 1161.8,1243.1 1174.6,1243.1 1187.5,1243.1 1200.3,1243.1 1213.1,1230.2 1225.9,1243.1 1238.7,1243.1 1251.6,1243.1 1264.4,1243.1 1277.2,1243.1 1290,1243.1 1302.8,1243.1 1315.7,1243.1 1328.5,1243.1 1341.3,1243.1 1354.1,1243.1 1366.9,1243.1 1379.8,1238.5 1392.6,1213 1405.4,1238.5 1418.2,1243.1 1431,1243.1 1443.9,1243.1 1456.7,1243.1 1469.5,1243.1 1482.3,1243.1 1495.1,1243.1 1508,1243.1 1520.8,1243.1 1533.6,1236.2 1546.4,1243.1" fill="none" stroke="#d0776e" stroke-width="5.0" stroke-linejoin="miter" stroke-miterlimit="2" />
<polyline points="187.5,1241.5 200.3,1232.5 213.1,1238.5 226,1217.3 238.8,1235.5 251.6,1217.3 264.4,1238.5 277.2,1236.9 290.1,1232.5 302.9,1223.3 315.7,1236.9 328.5,1236.4 341.3,1219.4 354.2,1239.9 367,1235.5 379.8,1230.9 392.6,1197.8 405.4,1208.4 418.3,1217.3 431.1,1226.5 443.9,1161.7 456.7,1199.4 469.5,1221.9 482.4,1221.9 495.2,1230.9 508,1205.4 520.8,1197.8 533.6,1218.3 546.5,1223.3 559.3,1157.3 572.1,1181.2 584.9,1150.2 597.7,1163.3 610.6,1206.8 623.4,1209.3 636.2,1210.4 649,1211.4 661.8,1200.8 674.7,1124.2 687.5,1223.3 700.3,1190.2 713.1,1158 725.9,1184.2 738.8,1208.4 751.6,1236.4 764.4,1210 777.2,1080.5 790,1202.4 802.9,1201.5 815.7,1151.1 828.5,1220.3 841.3,1208.4 854.1,1209.3 867,1199.4 879.8,1216 892.6,1217.3 905.4,1205.4 918.2,1230.9 931.1,1210 943.9,1232.5 956.7,1197.8 969.5,1226.5 982.3,1219 995.2,1213 1008,1224.9 1020.8,1205.6 1033.6,1223.8 1046.4,1215.7 1059.3,1223.1 1072.1,1223.8 1084.9,1226.5 1097.7,1232.8 1110.5,1236.4 1123.4,1229.1 1136.2,1231.6 1149,1230.9 1161.8,1232.8 1174.6,1232.8 1187.5,1238.3 1200.3,1187.7 1213.1,1194.8 1225.9,1236.4 1238.7,1217.3 1251.6,1223.8 1264.4,1194.8 1277.2,1230.9 1290,1230.9 1302.8,1232.8 1315.7,1231.6 1328.5,1229.1 1341.3,1238.3 1354.1,1217.3 1366.9,1229.1 1379.8,1239 1392.6,1241 1405.4,1241.7 1418.2,1242.4 1431,1239.9 1443.9,1241.7 1456.7,1242.9 1469.5,1243.6 1482.3,1244.7 1495.1,1243.6 1508,1201.2 1520.8,1239.9 1533.6,1187 1546.4,1241.7" fill="none" stroke="#dc4246" stroke-width="5.0" stroke-linejoin="miter" stroke-miterlimit="2" />
<polyline points="187.5,1244.9 200.3,1244.9 213.1,1244.9 226,1244.9 238.8,1244.9 251.6,1244.9 264.4,1244.9 277.2,1244.9 290.1,1244.9 302.9,1241.5 315.7,1244.9 328.5,1244.9 341.3,1244.9 354.2,1244.9 367,1244.9 379.8,1244.9 392.6,1244.9 405.4,1244.9 418.3,1234.6 431.1,1238.5 443.9,1244.9 456.7,1244.9 469.5,1244.9 482.4,1244.9 495.2,1244.9 508,1244.9 520.8,1244.9 533.6,1244.9 546.5,1244.9 559.3,1244.9 572.1,1244.9 584.9,1244.9 597.7,1244.9 610.6,1244.9 623.4,1244.9 636.2,1244.9 649,1244.9 661.8,1244.9 674.7,1244.9 687.5,1244.9 700.3,1244.9 713.1,1244.9 725.9,1244.9 738.8,1244.9 751.6,1244.9 764.4,1244.9 777.2,1244.9 790,1244.9 802.9,1244.9 815.7,1244.9 828.5,1244.9 841.3,1244.9 854.1,1240.8 867,1242 879.8,1244.9 892.6,1244.9 905.4,1244.9 918.2,1244.9 931.1,1244.9 943.9,1244.9 956.7,1244.9 969.5,1244.9 982.3,1244.9 995.2,1244.9 1008,1244.9 1020.8,1244.9 1033.6,1244.9 1046.4,1244.9 1059.3,1244.9 1072.1,1244.9 1084.9,1244.9 1097.7,1244.9 1110.5,1244.9 1123.4,1244.9 1136.2,1244.9 1149,1244.9 1161.8,1244.9 1174.6,1244.9 1187.5,1244.9 1200.3,1244.9 1213.1,1244.9 1225.9,1244.9 1238.7,1244.9 1251.6,1244.9 1264.4,1244.9 1277.2,1244.9 1290,1238.5 1302.8,1232.8 1315.7,1244.9 1328.5,1244.9 1341.3,1244.9 1354.1,1244.9 1366.9,1244.9 1379.8,1244.9 1392.6,1244.9 1405.4,1244.9 1418.2,1244.9 1431,1244.9 1443.9,1244.9 1456.7,1244.9 1469.5,1244.9 1482.3,1244.9 1495.1,1244.9 1508,1244.9 1520.8,1244.9 1533.6,1238.5 1546.4,1242" fill="none" stroke="#000" stroke-width="4.8" stroke-linecap="round" stroke-dasharray="0 9.8"/>
</g>
<line x1="175.4" y1="1245.4" x2="1559" y2="1245.4" stroke="#333" stroke-width="1.2"/>
<line x1="175.4" y1="988" x2="175.4" y2="1008.2" stroke="#333" stroke-width="1.3"/>
<line x1="175.4" y1="1015.4" x2="175.4" y2="1245.4" stroke="#333" stroke-width="1.3"/>
<line x1="163.7" y1="1245.4" x2="175.4" y2="1245.4" stroke="#333" stroke-width="1.2"/>
<text x="161.9" y="1251.4" font-size="16.5" text-anchor="end" fill="#000" stroke="#000" stroke-width="0.25">0</text>
<line x1="163.7" y1="1130.4" x2="175.4" y2="1130.4" stroke="#333" stroke-width="1.2"/>
<text x="161.9" y="1136.4" font-size="16.5" text-anchor="end" fill="#000" stroke="#000" stroke-width="0.25">5</text>
<line x1="163.7" y1="1015.4" x2="175.4" y2="1015.4" stroke="#333" stroke-width="1.2"/>
<text x="161.9" y="1021.4" font-size="16.5" text-anchor="end" fill="#000" stroke="#000" stroke-width="0.25">10</text>
<line x1="163.7" y1="988" x2="175.4" y2="988" stroke="#333" stroke-width="1.2"/>
<text x="161.9" y="994" font-size="16.5" text-anchor="end" fill="#000" stroke="#000" stroke-width="0.25">15</text>
<line x1="168.4" y1="1008.2" x2="182.4" y2="1008.2" stroke="#333" stroke-width="1.2"/>
<line x1="168.4" y1="1015.4" x2="182.4" y2="1015.4" stroke="#333" stroke-width="1.2"/>
<text x="187.5 200.3 213.1 226 238.8 251.6 264.4 277.2 290.1 302.9 315.7 328.5 341.3 354.2 367 379.8 392.6 405.4 418.3 431.1 443.9 456.7 469.5 482.4 495.2 508 520.8 533.6 546.5 559.3 572.1 584.9 597.7 610.6 623.4 636.2 649 661.8 674.7 687.5 700.3 713.1 725.9 738.8 751.6 764.4 777.2 790 802.9 815.7 828.5 841.3 854.1 867 879.8 892.6 905.4 918.2 931.1 943.9 956.7 969.5 982.3 995.2 1008 1020.8 1033.6 1046.4 1059.3 1072.1 1084.9 1097.7 1110.5 1123.4 1136.2 1149 1161.8 1174.6 1187.5 1200.3 1213.1 1225.9 1238.7 1251.6 1264.4 1277.2 1290 1302.8 1315.7 1328.5 1341.3 1354.1 1366.9 1379.8 1392.6 1405.4 1418.2 1431 1443.9 1456.7 1469.5 1482.3 1495.1 1508 1520.8 1533.6 1546.4" y="1256.9" font-size="10.5" text-anchor="middle" fill="#000" stroke="#000" stroke-width="0.3">EIVLTQSPGTLSLSPGERATLSCRASQTVSSTSLAWYQQKPGQAPRLLIYGASSRATGIPDRFSGSGSGTDFTLTISRLEPEDFAVYYCQQHDTSLTFGGGTKVEIK</text>
<text x="183.3" y="994.6" font-size="23" font-weight="bold" fill="#000" >S309 light chain</text>
<text x="0" y="0" font-size="24" text-anchor="middle" fill="#000" stroke="#000" stroke-width="0.6" transform="translate(124.1,1118.8) rotate(-90)" dy="8.5">%</text>
<text x="777.8" y="1049.7" font-size="20" text-anchor="middle" fill="#111" stroke="#111" stroke-width="0.3">L47</text>
<line x1="780.5" y1="1054" x2="777.8" y2="1071" stroke="#111" stroke-width="1.6"/>
<path d="M777.8,1076 l-4,-8 l8,0 z" fill="#111"/>
<line x1="1752.2" y1="287.5" x2="1782.4" y2="287.5" stroke="#000" stroke-width="4.6" stroke-linecap="round" stroke-dasharray="0 9.9"/>
<text x="1800.3" y="290.5" font-size="19.5" fill="#111" stroke="#111" stroke-width="0.3">Pre</text>
<line x1="1750.2" y1="322" x2="1785" y2="322" stroke="#dc4246" stroke-width="5" stroke-linecap="round"/>
<text x="1800.3" y="329.4" font-size="19.5" fill="#111" stroke="#111" stroke-width="0.3">ZCB11 1</text>
<line x1="1750.2" y1="360.1" x2="1785" y2="360.1" stroke="#d0776e" stroke-width="5" stroke-linecap="round"/>
<text x="1800.3" y="367.5" font-size="19.5" fill="#111" stroke="#111" stroke-width="0.3">ZCB11 2</text>
<line x1="1750.2" y1="400" x2="1785" y2="400" stroke="#f0c672" stroke-width="5" stroke-linecap="round"/>
<text x="1800.3" y="407.4" font-size="19.5" fill="#111" stroke="#111" stroke-width="0.3">ZCB11 3</text>
<line x1="1760.4" y1="896.8" x2="1791.6" y2="896.8" stroke="#000" stroke-width="4.6" stroke-linecap="round" stroke-dasharray="0 10.2"/>
<text x="1808" y="904" font-size="19.5" fill="#111" stroke="#111" stroke-width="0.3">Pre</text>
<line x1="1758.3" y1="930" x2="1793.8" y2="930" stroke="#dc4246" stroke-width="5" stroke-linecap="round"/>
<text x="1808" y="937.4" font-size="19.5" fill="#111" stroke="#111" stroke-width="0.3">S309 1</text>
<line x1="1758.3" y1="967" x2="1793.8" y2="967" stroke="#d0776e" stroke-width="5" stroke-linecap="round"/>
<text x="1808" y="974.4" font-size="19.5" fill="#111" stroke="#111" stroke-width="0.3">S309 2</text>
<line x1="1758.3" y1="1006" x2="1793.8" y2="1006" stroke="#f0c672" stroke-width="5" stroke-linecap="round"/>
<text x="1808" y="1013.4" font-size="19.5" fill="#111" stroke="#111" stroke-width="0.3">S309 3</text>
<text x="-4.5" y="1341" font-size="48" fill="#111" >b</text>
<text x="50.7" y="1352.4" font-size="18.5" font-weight="bold" fill="#111" >Heavy</text>
<line x1="225.9" y1="1357" x2="225.9" y2="1362" stroke="#222" stroke-width="1.8"/>
<line x1="297.9" y1="1357" x2="297.9" y2="1362" stroke="#222" stroke-width="1.8"/>
<text x="292.7" y="1352.4" font-size="16.5" fill="#111" stroke="#111" stroke-width="0.3">10</text>
<line x1="369.9" y1="1357" x2="369.9" y2="1362" stroke="#222" stroke-width="1.8"/>
<line x1="442" y1="1357" x2="442" y2="1362" stroke="#222" stroke-width="1.8"/>
<text x="436.8" y="1352.4" font-size="16.5" fill="#111" stroke="#111" stroke-width="0.3">20</text>
<line x1="514" y1="1357" x2="514" y2="1362" stroke="#222" stroke-width="1.8"/>
<line x1="586.1" y1="1357" x2="586.1" y2="1362" stroke="#222" stroke-width="1.8"/>
<text x="580.9" y="1352.4" font-size="16.5" fill="#111" stroke="#111" stroke-width="0.3">30</text>
<line x1="658.1" y1="1357" x2="658.1" y2="1362" stroke="#222" stroke-width="1.8"/>
<line x1="730.1" y1="1357" x2="730.1" y2="1362" stroke="#222" stroke-width="1.8"/>
<text x="724.9" y="1352.4" font-size="16.5" fill="#111" stroke="#111" stroke-width="0.3">40</text>
<line x1="802.2" y1="1357" x2="802.2" y2="1362" stroke="#222" stroke-width="1.8"/>
<line x1="874.2" y1="1357" x2="874.2" y2="1362" stroke="#222" stroke-width="1.8"/>
<text x="869" y="1352.4" font-size="16.5" fill="#111" stroke="#111" stroke-width="0.3">50</text>
<line x1="946.3" y1="1357" x2="946.3" y2="1362" stroke="#222" stroke-width="1.8"/>
<line x1="1018.3" y1="1357" x2="1018.3" y2="1362" stroke="#222" stroke-width="1.8"/>
<text x="1013.1" y="1352.4" font-size="16.5" fill="#111" stroke="#111" stroke-width="0.3">60</text>
<line x1="1090.3" y1="1357" x2="1090.3" y2="1362" stroke="#222" stroke-width="1.8"/>
<line x1="1162.4" y1="1357" x2="1162.4" y2="1362" stroke="#222" stroke-width="1.8"/>
<text x="1157.2" y="1352.4" font-size="16.5" fill="#111" stroke="#111" stroke-width="0.3">70</text>
<line x1="1234.4" y1="1357" x2="1234.4" y2="1362" stroke="#222" stroke-width="1.8"/>
<line x1="1306.5" y1="1357" x2="1306.5" y2="1362" stroke="#222" stroke-width="1.8"/>
<text x="1301.3" y="1352.4" font-size="16.5" fill="#111" stroke="#111" stroke-width="0.3">80</text>
<line x1="1378.5" y1="1357" x2="1378.5" y2="1362" stroke="#222" stroke-width="1.8"/>
<line x1="1450.5" y1="1357" x2="1450.5" y2="1362" stroke="#222" stroke-width="1.8"/>
<text x="1445.3" y="1352.4" font-size="16.5" fill="#111" stroke="#111" stroke-width="0.3">90</text>
<line x1="1522.6" y1="1357" x2="1522.6" y2="1362" stroke="#222" stroke-width="1.8"/>
<line x1="1594.6" y1="1357" x2="1594.6" y2="1362" stroke="#222" stroke-width="1.8"/>
<text x="1589.4" y="1352.4" font-size="16.5" fill="#111" stroke="#111" stroke-width="0.3">100</text>
<line x1="1666.7" y1="1357" x2="1666.7" y2="1362" stroke="#222" stroke-width="1.8"/>
<line x1="1738.7" y1="1357" x2="1738.7" y2="1362" stroke="#222" stroke-width="1.8"/>
<text x="1733.5" y="1352.4" font-size="16.5" fill="#111" stroke="#111" stroke-width="0.3">110</text>
<line x1="1810.7" y1="1357" x2="1810.7" y2="1362" stroke="#222" stroke-width="1.8"/>
<line x1="1882.8" y1="1357" x2="1882.8" y2="1362" stroke="#222" stroke-width="1.8"/>
<text x="1877.6" y="1352.4" font-size="16.5" fill="#111" stroke="#111" stroke-width="0.3">120</text>
<text x="1973.9" y="1347.8" font-size="16.5" fill="#111" stroke="#111" stroke-width="0.25">K<tspan font-size="10.5" dy="5">D</tspan><tspan dy="-5"> (M)</tspan></text>
<text x="38.1" y="1379.8" font-size="18.5" fill="#111" stroke="#111" stroke-width="0.25">ZCB11</text>
<text transform="scale(1,0.85)" x="168.2 182.6 197 211.5 225.9 240.3 254.7 269.1 283.5 297.9 312.3 326.7 341.1 355.5 369.9 384.3 398.8 413.2 427.6 442 456.4 470.8 485.2 499.6 514 528.4 542.8 557.2 571.7 586.1 600.5 614.9 629.3 643.7 658.1 672.5 686.9 701.3 715.7 730.1 744.5 759 773.4 787.8 802.2 816.6 831 845.4 859.8 874.2 888.6 903 917.4 931.9 946.3 960.7 975.1 989.5 1003.9 1018.3 1032.7 1047.1 1061.5 1075.9 1090.3 1104.7 1119.2 1133.6 1148 1162.4 1176.8 1191.2 1205.6 1220 1234.4 1248.8 1263.2 1277.6 1292.1 1306.5 1320.9 1335.3 1349.7 1364.1 1378.5 1392.9 1407.3 1421.7 1436.1 1450.5 1464.9 1479.4 1493.8 1508.2 1522.6 1537 1551.4 1565.8 1580.2 1594.6 1609 1623.4 1637.8 1652.3 1666.7 1681.1 1695.5 1709.9 1724.3 1738.7 1753.1 1767.5 1781.9 1796.3 1810.7 1825.1 1839.6 1854 1868.4 1882.8 1897.2 1911.6 1926 1940.4" y="1623.3" font-size="19.2" text-anchor="middle" fill="#111" stroke="#111" stroke-width="0.45">EVQLVQSGPEVKKPGTSVKVACKASGFTFITPVSMQWVRQARGQRLEWLGWIVLASGNTDYAQKFQERVTIIRDMSTSTAYMELSRLRTEDTAVYYCAAPSCSRTICSDGFDIWGQGTMVTVSS</text>
<text x="1965.3" y="1379.8" font-size="17" fill="#111" stroke="#111" stroke-width="0.3">9.33<tspan font-size="13.5">x</tspan>10<tspan font-size="11" dy="-7">-9</tspan></text>
<text x="38.1" y="1400.4" font-size="18.5" fill="#111" stroke="#111" stroke-width="0.25">ZCB11-v1</text>
<text transform="scale(1,0.85)" x="168.2 182.6 197 211.5 225.9 240.3 254.7 269.1 283.5 297.9 312.3 326.7 341.1 355.5 369.9 384.3 398.8 413.2 427.6 442 456.4 470.8 485.2 499.6 514 528.4 542.8 557.2 571.7 586.1 600.5 614.9 629.3 643.7 658.1 672.5 686.9 701.3 715.7 730.1 744.5 759 773.4 787.8 802.2 816.6 831 845.4 859.8 874.2 888.6 903 917.4 931.9 946.3 960.7 975.1 989.5 1003.9 1018.3 1032.7 1047.1 1061.5 1075.9 1090.3 1104.7 1119.2 1133.6 1148 1162.4 1176.8 1191.2 1205.6 1220 1234.4 1248.8 1263.2 1277.6 1292.1 1306.5 1320.9 1335.3 1349.7 1364.1 1378.5 1392.9 1407.3 1421.7 1436.1 1450.5 1464.9 1479.4 1493.8 1508.2 1522.6 1537 1551.4 1565.8 1580.2 1594.6 1609 1623.4 1637.8 1652.3 1666.7 1681.1 1695.5 1709.9 1724.3 1738.7 1753.1 1767.5 1781.9 1796.3 1810.7 1825.1 1839.6 1854 1868.4 1882.8 1897.2 1911.6 1926 1940.4" y="1647.5" font-size="19.2" text-anchor="middle" fill="#111" stroke="#111" stroke-width="0.45">EVQLVQSGPEVKKPGTSVKV CKASGFTFITPVSMQWVRQARGQRLEWLGWIVLASGNTDYAQKFQERVTIIRDMSTSTAYMELSRLRTEDTAVYYCAAPSCSRTICSDGFDIWGQGTMVTVSS</text>
<text transform="scale(1,0.85)" x="456.4" y="1647.5" font-size="19.2" text-anchor="middle" fill="#e2343c" stroke="#e2343c" stroke-width="0.45">S</text>
<text x="1965.3" y="1400.4" font-size="17" fill="#111" stroke="#111" stroke-width="0.3">6.32<tspan font-size="13.5">x</tspan>10<tspan font-size="11" dy="-7">-9</tspan></text>
<text x="38.1" y="1421" font-size="18.5" fill="#111" stroke="#111" stroke-width="0.25">ZCB11-v2</text>
<text transform="scale(1,0.85)" x="168.2 182.6 197 211.5 225.9 240.3 254.7 269.1 283.5 297.9 312.3 326.7 341.1 355.5 369.9 384.3 398.8 413.2 427.6 442 456.4 470.8 485.2 499.6 514 528.4 542.8 557.2 571.7 586.1 600.5 614.9 629.3 643.7 658.1 672.5 686.9 701.3 715.7 730.1 744.5 759 773.4 787.8 802.2 816.6 831 845.4 859.8 874.2 888.6 903 917.4 931.9 946.3 960.7 975.1 989.5 1003.9 1018.3 1032.7 1047.1 1061.5 1075.9 1090.3 1104.7 1119.2 1133.6 1148 1162.4 1176.8 1191.2 1205.6 1220 1234.4 1248.8 1263.2 1277.6 1292.1 1306.5 1320.9 1335.3 1349.7 1364.1 1378.5 1392.9 1407.3 1421.7 1436.1 1450.5 1464.9 1479.4 1493.8 1508.2 1522.6 1537 1551.4 1565.8 1580.2 1594.6 1609 1623.4 1637.8 1652.3 1666.7 1681.1 1695.5 1709.9 1724.3 1738.7 1753.1 1767.5 1781.9 1796.3 1810.7 1825.1 1839.6 1854 1868.4 1882.8 1897.2 1911.6 1926 1940.4" y="1671.8" font-size="19.2" text-anchor="middle" fill="#111" stroke="#111" stroke-width="0.45">EVQLVQSGPEVKKPGTSVKVACKASGFTFITPVSMQWVRQARGQRL WLGWIVLASGNTDYAQKFQERVTIIRDMSTSTAYMELSRLRTEDTAVYYCAAPSCSRTICSDGFDIWGQGTMVTVSS</text>
<text transform="scale(1,0.85)" x="831" y="1671.8" font-size="19.2" text-anchor="middle" fill="#e2343c" stroke="#e2343c" stroke-width="0.45">G</text>
<text x="1965.3" y="1421" font-size="17" fill="#111" stroke="#111" stroke-width="0.3">1.97<tspan font-size="13.5">x</tspan>10<tspan font-size="11" dy="-7">-9</tspan></text>
<text x="38.1" y="1441.6" font-size="18.5" fill="#111" stroke="#111" stroke-width="0.25">ZCB11-v3</text>
<text transform="scale(1,0.85)" x="168.2 182.6 197 211.5 225.9 240.3 254.7 269.1 283.5 297.9 312.3 326.7 341.1 355.5 369.9 384.3 398.8 413.2 427.6 442 456.4 470.8 485.2 499.6 514 528.4 542.8 557.2 571.7 586.1 600.5 614.9 629.3 643.7 658.1 672.5 686.9 701.3 715.7 730.1 744.5 759 773.4 787.8 802.2 816.6 831 845.4 859.8 874.2 888.6 903 917.4 931.9 946.3 960.7 975.1 989.5 1003.9 1018.3 1032.7 1047.1 1061.5 1075.9 1090.3 1104.7 1119.2 1133.6 1148 1162.4 1176.8 1191.2 1205.6 1220 1234.4 1248.8 1263.2 1277.6 1292.1 1306.5 1320.9 1335.3 1349.7 1364.1 1378.5 1392.9 1407.3 1421.7 1436.1 1450.5 1464.9 1479.4 1493.8 1508.2 1522.6 1537 1551.4 1565.8 1580.2 1594.6 1609 1623.4 1637.8 1652.3 1666.7 1681.1 1695.5 1709.9 1724.3 1738.7 1753.1 1767.5 1781.9 1796.3 1810.7 1825.1 1839.6 1854 1868.4 1882.8 1897.2 1911.6 1926 1940.4" y="1696" font-size="19.2" text-anchor="middle" fill="#111" stroke="#111" stroke-width="0.45">EVQLVQSGPEVKKPGTSVKVACKASGFTFITPVSMQWVRQARGQRLEWLGWIVLASGNTDYA KFQERVTIIRDMSTSTAYMELSRLRTEDTAVYYCAAPSCSRTICSDGFDIWGQGTMVTVSS</text>
<text transform="scale(1,0.85)" x="1061.5" y="1696" font-size="19.2" text-anchor="middle" fill="#e2343c" stroke="#e2343c" stroke-width="0.45">K</text>
<text x="1965.3" y="1441.6" font-size="17" fill="#111" stroke="#111" stroke-width="0.3">7.10<tspan font-size="13.5">x</tspan>10<tspan font-size="11" dy="-7">-9</tspan></text>
<text x="38.1" y="1462.2" font-size="18.5" fill="#111" stroke="#111" stroke-width="0.25">ZCB11-v4</text>
<text transform="scale(1,0.85)" x="168.2 182.6 197 211.5 225.9 240.3 254.7 269.1 283.5 297.9 312.3 326.7 341.1 355.5 369.9 384.3 398.8 413.2 427.6 442 456.4 470.8 485.2 499.6 514 528.4 542.8 557.2 571.7 586.1 600.5 614.9 629.3 643.7 658.1 672.5 686.9 701.3 715.7 730.1 744.5 759 773.4 787.8 802.2 816.6 831 845.4 859.8 874.2 888.6 903 917.4 931.9 946.3 960.7 975.1 989.5 1003.9 1018.3 1032.7 1047.1 1061.5 1075.9 1090.3 1104.7 1119.2 1133.6 1148 1162.4 1176.8 1191.2 1205.6 1220 1234.4 1248.8 1263.2 1277.6 1292.1 1306.5 1320.9 1335.3 1349.7 1364.1 1378.5 1392.9 1407.3 1421.7 1436.1 1450.5 1464.9 1479.4 1493.8 1508.2 1522.6 1537 1551.4 1565.8 1580.2 1594.6 1609 1623.4 1637.8 1652.3 1666.7 1681.1 1695.5 1709.9 1724.3 1738.7 1753.1 1767.5 1781.9 1796.3 1810.7 1825.1 1839.6 1854 1868.4 1882.8 1897.2 1911.6 1926 1940.4" y="1720.2" font-size="19.2" text-anchor="middle" fill="#111" stroke="#111" stroke-width="0.45">EVQLVQSGPEVKKPGTSVKVACKASGFTFITPVSMQWVRQARGQRLEWLGWIVLASGNTDYAQKFQERVTII DMSTSTAYMELSRLRTEDTAVYYCAAPSCSRTICSDGFDIWGQGTMVTVSS</text>
<text transform="scale(1,0.85)" x="1205.6" y="1720.2" font-size="19.2" text-anchor="middle" fill="#e2343c" stroke="#e2343c" stroke-width="0.45">G</text>
<text x="1965.3" y="1462.2" font-size="17" fill="#111" stroke="#111" stroke-width="0.3">3.04<tspan font-size="13.5">x</tspan>10<tspan font-size="11" dy="-7">-9</tspan></text>
<text x="38.1" y="1482.8" font-size="18.5" fill="#111" stroke="#111" stroke-width="0.25">ZCB11-v5</text>
<text transform="scale(1,0.85)" x="168.2 182.6 197 211.5 225.9 240.3 254.7 269.1 283.5 297.9 312.3 326.7 341.1 355.5 369.9 384.3 398.8 413.2 427.6 442 456.4 470.8 485.2 499.6 514 528.4 542.8 557.2 571.7 586.1 600.5 614.9 629.3 643.7 658.1 672.5 686.9 701.3 715.7 730.1 744.5 759 773.4 787.8 802.2 816.6 831 845.4 859.8 874.2 888.6 903 917.4 931.9 946.3 960.7 975.1 989.5 1003.9 1018.3 1032.7 1047.1 1061.5 1075.9 1090.3 1104.7 1119.2 1133.6 1148 1162.4 1176.8 1191.2 1205.6 1220 1234.4 1248.8 1263.2 1277.6 1292.1 1306.5 1320.9 1335.3 1349.7 1364.1 1378.5 1392.9 1407.3 1421.7 1436.1 1450.5 1464.9 1479.4 1493.8 1508.2 1522.6 1537 1551.4 1565.8 1580.2 1594.6 1609 1623.4 1637.8 1652.3 1666.7 1681.1 1695.5 1709.9 1724.3 1738.7 1753.1 1767.5 1781.9 1796.3 1810.7 1825.1 1839.6 1854 1868.4 1882.8 1897.2 1911.6 1926 1940.4" y="1744.5" font-size="19.2" text-anchor="middle" fill="#111" stroke="#111" stroke-width="0.45">EVQLVQSGPEVKKPGTSVKVACKASGFTFITPVSMQWVRQARGQRLEWLGWIVLASGNTDYAQKFQERVTIIRDMSTSTAYM LSRLRTEDTAVYYCAAPSCSRTICSDGFDIWGQGTMVTVSS</text>
<text transform="scale(1,0.85)" x="1349.7" y="1744.5" font-size="19.2" text-anchor="middle" fill="#e2343c" stroke="#e2343c" stroke-width="0.45">G</text>
<text x="1965.3" y="1482.8" font-size="17" fill="#111" stroke="#111" stroke-width="0.3">2.90<tspan font-size="13.5">x</tspan>10<tspan font-size="11" dy="-7">-9</tspan></text>
<text x="38.1" y="1503.4" font-size="18.5" fill="#111" stroke="#111" stroke-width="0.25">ZCB11-v6</text>
<text transform="scale(1,0.85)" x="168.2 182.6 197 211.5 225.9 240.3 254.7 269.1 283.5 297.9 312.3 326.7 341.1 355.5 369.9 384.3 398.8 413.2 427.6 442 456.4 470.8 485.2 499.6 514 528.4 542.8 557.2 571.7 586.1 600.5 614.9 629.3 643.7 658.1 672.5 686.9 701.3 715.7 730.1 744.5 759 773.4 787.8 802.2 816.6 831 845.4 859.8 874.2 888.6 903 917.4 931.9 946.3 960.7 975.1 989.5 1003.9 1018.3 1032.7 1047.1 1061.5 1075.9 1090.3 1104.7 1119.2 1133.6 1148 1162.4 1176.8 1191.2 1205.6 1220 1234.4 1248.8 1263.2 1277.6 1292.1 1306.5 1320.9 1335.3 1349.7 1364.1 1378.5 1392.9 1407.3 1421.7 1436.1 1450.5 1464.9 1479.4 1493.8 1508.2 1522.6 1537 1551.4 1565.8 1580.2 1594.6 1609 1623.4 1637.8 1652.3 1666.7 1681.1 1695.5 1709.9 1724.3 1738.7 1753.1 1767.5 1781.9 1796.3 1810.7 1825.1 1839.6 1854 1868.4 1882.8 1897.2 1911.6 1926 1940.4" y="1768.7" font-size="19.2" text-anchor="middle" fill="#111" stroke="#111" stroke-width="0.45">EVQLVQSGPEVKKPGTSVKVACKASGFTFITPVSMQWVRQARGQRLEWLGWIVLASGNTDYAQKFQERVTIIRDMSTSTAYMELSRLRTE TAVYYCAAPSCSRTICSDGFDIWGQGTMVTVSS</text>
<text transform="scale(1,0.85)" x="1464.9" y="1768.7" font-size="19.2" text-anchor="middle" fill="#e2343c" stroke="#e2343c" stroke-width="0.45">E</text>
<text x="1965.3" y="1503.4" font-size="17" fill="#111" stroke="#111" stroke-width="0.3">7.79<tspan font-size="13.5">x</tspan>10<tspan font-size="11" dy="-7">-9</tspan></text>
<text x="38.1" y="1524" font-size="18.5" fill="#111" stroke="#111" stroke-width="0.25">ZCB11-v7</text>
<text transform="scale(1,0.85)" x="168.2 182.6 197 211.5 225.9 240.3 254.7 269.1 283.5 297.9 312.3 326.7 341.1 355.5 369.9 384.3 398.8 413.2 427.6 442 456.4 470.8 485.2 499.6 514 528.4 542.8 557.2 571.7 586.1 600.5 614.9 629.3 643.7 658.1 672.5 686.9 701.3 715.7 730.1 744.5 759 773.4 787.8 802.2 816.6 831 845.4 859.8 874.2 888.6 903 917.4 931.9 946.3 960.7 975.1 989.5 1003.9 1018.3 1032.7 1047.1 1061.5 1075.9 1090.3 1104.7 1119.2 1133.6 1148 1162.4 1176.8 1191.2 1205.6 1220 1234.4 1248.8 1263.2 1277.6 1292.1 1306.5 1320.9 1335.3 1349.7 1364.1 1378.5 1392.9 1407.3 1421.7 1436.1 1450.5 1464.9 1479.4 1493.8 1508.2 1522.6 1537 1551.4 1565.8 1580.2 1594.6 1609 1623.4 1637.8 1652.3 1666.7 1681.1 1695.5 1709.9 1724.3 1738.7 1753.1 1767.5 1781.9 1796.3 1810.7 1825.1 1839.6 1854 1868.4 1882.8 1897.2 1911.6 1926 1940.4" y="1792.9" font-size="19.2" text-anchor="middle" fill="#111" stroke="#111" stroke-width="0.45">EVQLVQSGPEVKKPGTSVKVACKASGFTFITPVSMQWVRQARGQRLEWLGWIVLASGNTDYAQKFQERVTIIRDMSTSTAYMELSRLRTEDTAVYYCAAP CSRTICSDGFDIWGQGTMVTVSS</text>
<text transform="scale(1,0.85)" x="1609" y="1792.9" font-size="19.2" text-anchor="middle" fill="#e2343c" stroke="#e2343c" stroke-width="0.45">P</text>
<text x="1965.3" y="1524" font-size="17" fill="#111" stroke="#111" stroke-width="0.3">8.60<tspan font-size="13.5">x</tspan>10<tspan font-size="11" dy="-7">-9</tspan></text>
<text x="38.1" y="1544.6" font-size="18.5" fill="#111" stroke="#111" stroke-width="0.25">ZCB11-v8</text>
<text transform="scale(1,0.85)" x="168.2 182.6 197 211.5 225.9 240.3 254.7 269.1 283.5 297.9 312.3 326.7 341.1 355.5 369.9 384.3 398.8 413.2 427.6 442 456.4 470.8 485.2 499.6 514 528.4 542.8 557.2 571.7 586.1 600.5 614.9 629.3 643.7 658.1 672.5 686.9 701.3 715.7 730.1 744.5 759 773.4 787.8 802.2 816.6 831 845.4 859.8 874.2 888.6 903 917.4 931.9 946.3 960.7 975.1 989.5 1003.9 1018.3 1032.7 1047.1 1061.5 1075.9 1090.3 1104.7 1119.2 1133.6 1148 1162.4 1176.8 1191.2 1205.6 1220 1234.4 1248.8 1263.2 1277.6 1292.1 1306.5 1320.9 1335.3 1349.7 1364.1 1378.5 1392.9 1407.3 1421.7 1436.1 1450.5 1464.9 1479.4 1493.8 1508.2 1522.6 1537 1551.4 1565.8 1580.2 1594.6 1609 1623.4 1637.8 1652.3 1666.7 1681.1 1695.5 1709.9 1724.3 1738.7 1753.1 1767.5 1781.9 1796.3 1810.7 1825.1 1839.6 1854 1868.4 1882.8 1897.2 1911.6 1926 1940.4" y="1817.2" font-size="19.2" text-anchor="middle" fill="#111" stroke="#111" stroke-width="0.45">EVQLVQSGPEVKKPGTSVKVACKASGFTFITPVSMQWVRQARGQRLEWLGWIVLASGNTDYAQKFQERVTIIRDMSTSTAYMELSRLRTEDTAVYYCAAP CS TICSDGFDIWGQGTMVTVSS</text>
<text transform="scale(1,0.85)" x="1609" y="1817.2" font-size="19.2" text-anchor="middle" fill="#e2343c" stroke="#e2343c" stroke-width="0.45">P</text>
<text transform="scale(1,0.85)" x="1652.3" y="1817.2" font-size="19.2" text-anchor="middle" fill="#e2343c" stroke="#e2343c" stroke-width="0.45">M</text>
<text x="1965.3" y="1544.6" font-size="17" fill="#111" stroke="#111" stroke-width="0.3">3.72<tspan font-size="13.5">x</tspan>10<tspan font-size="11" dy="-7">-9</tspan></text>
<text x="53.5" y="1588.8" font-size="18.5" font-weight="bold" fill="#111" >Light</text>
<line x1="216.5" y1="1593.8" x2="216.5" y2="1598.5" stroke="#222" stroke-width="1.8"/>
<line x1="288.2" y1="1593.8" x2="288.2" y2="1598.5" stroke="#222" stroke-width="1.8"/>
<text x="283" y="1589.5" font-size="16.5" fill="#111" stroke="#111" stroke-width="0.3">10</text>
<line x1="359.9" y1="1593.8" x2="359.9" y2="1598.5" stroke="#222" stroke-width="1.8"/>
<line x1="431.6" y1="1593.8" x2="431.6" y2="1598.5" stroke="#222" stroke-width="1.8"/>
<text x="426.4" y="1589.5" font-size="16.5" fill="#111" stroke="#111" stroke-width="0.3">20</text>
<line x1="503.2" y1="1593.8" x2="503.2" y2="1598.5" stroke="#222" stroke-width="1.8"/>
<line x1="574.9" y1="1593.8" x2="574.9" y2="1598.5" stroke="#222" stroke-width="1.8"/>
<text x="569.7" y="1589.5" font-size="16.5" fill="#111" stroke="#111" stroke-width="0.3">30</text>
<line x1="646.6" y1="1593.8" x2="646.6" y2="1598.5" stroke="#222" stroke-width="1.8"/>
<line x1="718.2" y1="1593.8" x2="718.2" y2="1598.5" stroke="#222" stroke-width="1.8"/>
<text x="713" y="1589.5" font-size="16.5" fill="#111" stroke="#111" stroke-width="0.3">40</text>
<line x1="789.9" y1="1593.8" x2="789.9" y2="1598.5" stroke="#222" stroke-width="1.8"/>
<line x1="861.6" y1="1593.8" x2="861.6" y2="1598.5" stroke="#222" stroke-width="1.8"/>
<text x="856.4" y="1589.5" font-size="16.5" fill="#111" stroke="#111" stroke-width="0.3">50</text>
<line x1="933.3" y1="1593.8" x2="933.3" y2="1598.5" stroke="#222" stroke-width="1.8"/>
<line x1="1005" y1="1593.8" x2="1005" y2="1598.5" stroke="#222" stroke-width="1.8"/>
<text x="999.8" y="1589.5" font-size="16.5" fill="#111" stroke="#111" stroke-width="0.3">60</text>
<line x1="1076.6" y1="1593.8" x2="1076.6" y2="1598.5" stroke="#222" stroke-width="1.8"/>
<line x1="1148.3" y1="1593.8" x2="1148.3" y2="1598.5" stroke="#222" stroke-width="1.8"/>
<text x="1143.1" y="1589.5" font-size="16.5" fill="#111" stroke="#111" stroke-width="0.3">70</text>
<line x1="1220" y1="1593.8" x2="1220" y2="1598.5" stroke="#222" stroke-width="1.8"/>
<line x1="1291.7" y1="1593.8" x2="1291.7" y2="1598.5" stroke="#222" stroke-width="1.8"/>
<text x="1286.5" y="1589.5" font-size="16.5" fill="#111" stroke="#111" stroke-width="0.3">80</text>
<line x1="1363.3" y1="1593.8" x2="1363.3" y2="1598.5" stroke="#222" stroke-width="1.8"/>
<line x1="1435" y1="1593.8" x2="1435" y2="1598.5" stroke="#222" stroke-width="1.8"/>
<text x="1429.8" y="1589.5" font-size="16.5" fill="#111" stroke="#111" stroke-width="0.3">90</text>
<line x1="1506.7" y1="1593.8" x2="1506.7" y2="1598.5" stroke="#222" stroke-width="1.8"/>
<line x1="1578.4" y1="1593.8" x2="1578.4" y2="1598.5" stroke="#222" stroke-width="1.8"/>
<text x="1573.2" y="1589.5" font-size="16.5" fill="#111" stroke="#111" stroke-width="0.3">100</text>
<line x1="1650" y1="1593.8" x2="1650" y2="1598.5" stroke="#222" stroke-width="1.8"/>
<text x="1753.3" y="1595.5" font-size="16.5" fill="#111" stroke="#111" stroke-width="0.25">K<tspan font-size="10.5" dy="5">D</tspan><tspan dy="-5"> (M)</tspan></text>
<text x="34.6" y="1615.3" font-size="18.5" fill="#111" stroke="#111" stroke-width="0.25">ZCB11</text>
<text transform="scale(1,0.85)" x="159.2 173.5 187.9 202.2 216.5 230.9 245.2 259.5 273.9 288.2 302.5 316.9 331.2 345.5 359.9 374.2 388.5 402.9 417.2 431.6 445.9 460.2 474.6 488.9 503.2 517.6 531.9 546.2 560.6 574.9 589.2 603.6 617.9 632.2 646.6 660.9 675.2 689.6 703.9 718.2 732.6 746.9 761.3 775.6 789.9 804.3 818.6 832.9 847.3 861.6 875.9 890.3 904.6 918.9 933.3 947.6 961.9 976.3 990.6 1005 1019.3 1033.6 1048 1062.3 1076.6 1091 1105.3 1119.6 1134 1148.3 1162.6 1177 1191.3 1205.6 1220 1234.3 1248.6 1263 1277.3 1291.7 1306 1320.3 1334.7 1349 1363.3 1377.7 1392 1406.3 1420.7 1435 1449.3 1463.7 1478 1492.3 1506.7 1521 1535.3 1549.7 1564 1578.4 1592.7 1607 1621.4 1635.7 1650 1664.4 1678.7 1693 1707.4 1721.7" y="1901.5" font-size="19.2" text-anchor="middle" fill="#111" stroke="#111" stroke-width="0.45">EIVLTQSPGTLSLSPGERATLSCRA--SQSVSSSYLAWFQQKPGQAPRLLIFAASSRAIGIPARFSGSGSGTDFTLTISRLEPEDFAVYYCQQYSSSPWTFGQGTKVEIK</text>
<text x="1747.8" y="1615.3" font-size="17" fill="#111" stroke="#111" stroke-width="0.3">9.33<tspan font-size="13.5">x</tspan>10<tspan font-size="11" dy="-7">-9</tspan></text>
<text x="34.6" y="1635.8" font-size="18.5" fill="#111" stroke="#111" stroke-width="0.25">ZCB11-v9</text>
<text transform="scale(1,0.85)" x="159.2 173.5 187.9 202.2 216.5 230.9 245.2 259.5 273.9 288.2 302.5 316.9 331.2 345.5 359.9 374.2 388.5 402.9 417.2 431.6 445.9 460.2 474.6 488.9 503.2 517.6 531.9 546.2 560.6 574.9 589.2 603.6 617.9 632.2 646.6 660.9 675.2 689.6 703.9 718.2 732.6 746.9 761.3 775.6 789.9 804.3 818.6 832.9 847.3 861.6 875.9 890.3 904.6 918.9 933.3 947.6 961.9 976.3 990.6 1005 1019.3 1033.6 1048 1062.3 1076.6 1091 1105.3 1119.6 1134 1148.3 1162.6 1177 1191.3 1205.6 1220 1234.3 1248.6 1263 1277.3 1291.7 1306 1320.3 1334.7 1349 1363.3 1377.7 1392 1406.3 1420.7 1435 1449.3 1463.7 1478 1492.3 1506.7 1521 1535.3 1549.7 1564 1578.4 1592.7 1607 1621.4 1635.7 1650 1664.4 1678.7 1693 1707.4 1721.7" y="1925.6" font-size="19.2" text-anchor="middle" fill="#111" stroke="#111" stroke-width="0.45">EIVLTQSPGTLSLSPGERATLSCRA--SQSVSSSYLAWFQQKPGQAPR LIFAASSRAIGIPARFSGSGSGTDFTLTISRLEPEDFAVYYCQQYSSSPWTFGQGTKVEIK</text>
<text transform="scale(1,0.85)" x="847.3" y="1925.6" font-size="19.2" text-anchor="middle" fill="#e2343c" stroke="#e2343c" stroke-width="0.45">P</text>
<text x="1747.8" y="1635.8" font-size="17" fill="#111" stroke="#111" stroke-width="0.3">9.69<tspan font-size="13.5">x</tspan>10<tspan font-size="11" dy="-7">-10</tspan></text>
<text x="34.6" y="1656.3" font-size="18.5" fill="#111" stroke="#111" stroke-width="0.25">ZCB11-v10</text>
<text transform="scale(1,0.85)" x="159.2 173.5 187.9 202.2 216.5 230.9 245.2 259.5 273.9 288.2 302.5 316.9 331.2 345.5 359.9 374.2 388.5 402.9 417.2 431.6 445.9 460.2 474.6 488.9 503.2 517.6 531.9 546.2 560.6 574.9 589.2 603.6 617.9 632.2 646.6 660.9 675.2 689.6 703.9 718.2 732.6 746.9 761.3 775.6 789.9 804.3 818.6 832.9 847.3 861.6 875.9 890.3 904.6 918.9 933.3 947.6 961.9 976.3 990.6 1005 1019.3 1033.6 1048 1062.3 1076.6 1091 1105.3 1119.6 1134 1148.3 1162.6 1177 1191.3 1205.6 1220 1234.3 1248.6 1263 1277.3 1291.7 1306 1320.3 1334.7 1349 1363.3 1377.7 1392 1406.3 1420.7 1435 1449.3 1463.7 1478 1492.3 1506.7 1521 1535.3 1549.7 1564 1578.4 1592.7 1607 1621.4 1635.7 1650 1664.4 1678.7 1693 1707.4 1721.7" y="1949.8" font-size="19.2" text-anchor="middle" fill="#111" stroke="#111" stroke-width="0.45">EIVLTQSPGTLSLSPGERATLSCRA--SQSVSSSYLAWFQQKPGQAPRLLIFAASSRAIGIPAR SGSGSGTDFTLTISRLEPEDFAVYYCQQYSSSPWTFGQGTKVEIK</text>
<text transform="scale(1,0.85)" x="1076.6" y="1949.8" font-size="19.2" text-anchor="middle" fill="#e2343c" stroke="#e2343c" stroke-width="0.45">L</text>
<text x="1747.8" y="1656.3" font-size="17" fill="#111" stroke="#111" stroke-width="0.3">9.52<tspan font-size="13.5">x</tspan>10<tspan font-size="11" dy="-7">-9</tspan></text>
<text x="34.6" y="1676.8" font-size="18.5" fill="#111" stroke="#111" stroke-width="0.25">ZCB11-v11</text>
<text transform="scale(1,0.85)" x="159.2 173.5 187.9 202.2 216.5 230.9 245.2 259.5 273.9 288.2 302.5 316.9 331.2 345.5 359.9 374.2 388.5 402.9 417.2 431.6 445.9 460.2 474.6 488.9 503.2 517.6 531.9 546.2 560.6 574.9 589.2 603.6 617.9 632.2 646.6 660.9 675.2 689.6 703.9 718.2 732.6 746.9 761.3 775.6 789.9 804.3 818.6 832.9 847.3 861.6 875.9 890.3 904.6 918.9 933.3 947.6 961.9 976.3 990.6 1005 1019.3 1033.6 1048 1062.3 1076.6 1091 1105.3 1119.6 1134 1148.3 1162.6 1177 1191.3 1205.6 1220 1234.3 1248.6 1263 1277.3 1291.7 1306 1320.3 1334.7 1349 1363.3 1377.7 1392 1406.3 1420.7 1435 1449.3 1463.7 1478 1492.3 1506.7 1521 1535.3 1549.7 1564 1578.4 1592.7 1607 1621.4 1635.7 1650 1664.4 1678.7 1693 1707.4 1721.7" y="1973.9" font-size="19.2" text-anchor="middle" fill="#111" stroke="#111" stroke-width="0.45">EIVLTQSPGTLSLSPGERATLSCRA--SQSVSSSYLAWFQQKPGQAPRLLIFAASSRAIGIPARFSGSGSGTDFTLTISRLEPEDFAVYYCQQYS SPWTFGQGTKVEIK</text>
<text transform="scale(1,0.85)" x="1521" y="1973.9" font-size="19.2" text-anchor="middle" fill="#e2343c" stroke="#e2343c" stroke-width="0.45">C</text>
<text x="1747.8" y="1676.8" font-size="17" fill="#111" stroke="#111" stroke-width="0.3">3.55<tspan font-size="13.5">x</tspan>10<tspan font-size="11" dy="-7">-9</tspan></text>
<text x="34.6" y="1697.3" font-size="18.5" fill="#111" stroke="#111" stroke-width="0.25">ZCB11-v12</text>
<text transform="scale(1,0.85)" x="159.2 173.5 187.9 202.2 216.5 230.9 245.2 259.5 273.9 288.2 302.5 316.9 331.2 345.5 359.9 374.2 388.5 402.9 417.2 431.6 445.9 460.2 474.6 488.9 503.2 517.6 531.9 546.2 560.6 574.9 589.2 603.6 617.9 632.2 646.6 660.9 675.2 689.6 703.9 718.2 732.6 746.9 761.3 775.6 789.9 804.3 818.6 832.9 847.3 861.6 875.9 890.3 904.6 918.9 933.3 947.6 961.9 976.3 990.6 1005 1019.3 1033.6 1048 1062.3 1076.6 1091 1105.3 1119.6 1134 1148.3 1162.6 1177 1191.3 1205.6 1220 1234.3 1248.6 1263 1277.3 1291.7 1306 1320.3 1334.7 1349 1363.3 1377.7 1392 1406.3 1420.7 1435 1449.3 1463.7 1478 1492.3 1506.7 1521 1535.3 1549.7 1564 1578.4 1592.7 1607 1621.4 1635.7 1650 1664.4 1678.7 1693 1707.4 1721.7" y="1998" font-size="19.2" text-anchor="middle" fill="#111" stroke="#111" stroke-width="0.45">EIVLTQSPGTLSLSPGERATLSCRA--SQSVSS YLAWFQQKPGQAPRLLIFAASSRAIGIPARFSGSGSGTDFTLTISRLEPEDFA YYCQQYSSSPWTFGQGTKVEIK</text>
<text transform="scale(1,0.85)" x="632.2" y="1998" font-size="19.2" text-anchor="middle" fill="#e2343c" stroke="#e2343c" stroke-width="0.45">T</text>
<text transform="scale(1,0.85)" x="1406.3" y="1998" font-size="19.2" text-anchor="middle" fill="#e2343c" stroke="#e2343c" stroke-width="0.45">M</text>
<text x="1747.8" y="1697.3" font-size="17" fill="#111" stroke="#111" stroke-width="0.3">2.75<tspan font-size="13.5">x</tspan>10<tspan font-size="11" dy="-7">-9</tspan></text>
<text x="34.6" y="1717.8" font-size="18.5" fill="#111" stroke="#111" stroke-width="0.25">ZCB11-v13</text>
<text transform="scale(1,0.85)" x="159.2 173.5 187.9 202.2 216.5 230.9 245.2 259.5 273.9 288.2 302.5 316.9 331.2 345.5 359.9 374.2 388.5 402.9 417.2 431.6 445.9 460.2 474.6 488.9 503.2 517.6 531.9 546.2 560.6 574.9 589.2 603.6 617.9 632.2 646.6 660.9 675.2 689.6 703.9 718.2 732.6 746.9 761.3 775.6 789.9 804.3 818.6 832.9 847.3 861.6 875.9 890.3 904.6 918.9 933.3 947.6 961.9 976.3 990.6 1005 1019.3 1033.6 1048 1062.3 1076.6 1091 1105.3 1119.6 1134 1148.3 1162.6 1177 1191.3 1205.6 1220 1234.3 1248.6 1263 1277.3 1291.7 1306 1320.3 1334.7 1349 1363.3 1377.7 1392 1406.3 1420.7 1435 1449.3 1463.7 1478 1492.3 1506.7 1521 1535.3 1549.7 1564 1578.4 1592.7 1607 1621.4 1635.7 1650 1664.4 1678.7 1693 1707.4 1721.7" y="2022.1" font-size="19.2" text-anchor="middle" fill="#111" stroke="#111" stroke-width="0.45">EIVLTQSPGTLSLSPGERA LSCRA--SQSVSS  LAWFQQKPGQAPRLLIFAASSRAIGIPARFSGSGSGTDFTLTISRLEPEDFAVYYCQQYSSSPWTFGQGTKVEIK</text>
<text transform="scale(1,0.85)" x="431.6" y="2022.1" font-size="19.2" text-anchor="middle" fill="#e2343c" stroke="#e2343c" stroke-width="0.45">I</text>
<text transform="scale(1,0.85)" x="632.2" y="2022.1" font-size="19.2" text-anchor="middle" fill="#e2343c" stroke="#e2343c" stroke-width="0.45">T</text>
<text transform="scale(1,0.85)" x="646.6" y="2022.1" font-size="19.2" text-anchor="middle" fill="#e2343c" stroke="#e2343c" stroke-width="0.45">F</text>
<text x="1747.8" y="1717.8" font-size="17" fill="#111" stroke="#111" stroke-width="0.3">3.14<tspan font-size="13.5">x</tspan>10<tspan font-size="11" dy="-7">-9</tspan></text>
<text x="34.6" y="1738.3" font-size="18.5" fill="#111" stroke="#111" stroke-width="0.25">ZCB11-v14</text>
<text transform="scale(1,0.85)" x="159.2 173.5 187.9 202.2 216.5 230.9 245.2 259.5 273.9 288.2 302.5 316.9 331.2 345.5 359.9 374.2 388.5 402.9 417.2 431.6 445.9 460.2 474.6 488.9 503.2 517.6 531.9 546.2 560.6 574.9 589.2 603.6 617.9 632.2 646.6 660.9 675.2 689.6 703.9 718.2 732.6 746.9 761.3 775.6 789.9 804.3 818.6 832.9 847.3 861.6 875.9 890.3 904.6 918.9 933.3 947.6 961.9 976.3 990.6 1005 1019.3 1033.6 1048 1062.3 1076.6 1091 1105.3 1119.6 1134 1148.3 1162.6 1177 1191.3 1205.6 1220 1234.3 1248.6 1263 1277.3 1291.7 1306 1320.3 1334.7 1349 1363.3 1377.7 1392 1406.3 1420.7 1435 1449.3 1463.7 1478 1492.3 1506.7 1521 1535.3 1549.7 1564 1578.4 1592.7 1607 1621.4 1635.7 1650 1664.4 1678.7 1693 1707.4 1721.7" y="2046.2" font-size="19.2" text-anchor="middle" fill="#111" stroke="#111" stroke-width="0.45">EIVLTQSPGTLSLSPGERA LSCRA--SQSVSS  LAWFQQKPGQAPRLLIFAASSRAIGIPARFSGSGSGTDFTLTISRLEPEDFAVYYCQQYS SPWTFGQGTKVEIK</text>
<text transform="scale(1,0.85)" x="431.6" y="2046.2" font-size="19.2" text-anchor="middle" fill="#e2343c" stroke="#e2343c" stroke-width="0.45">I</text>
<text transform="scale(1,0.85)" x="632.2" y="2046.2" font-size="19.2" text-anchor="middle" fill="#e2343c" stroke="#e2343c" stroke-width="0.45">T</text>
<text transform="scale(1,0.85)" x="646.6" y="2046.2" font-size="19.2" text-anchor="middle" fill="#e2343c" stroke="#e2343c" stroke-width="0.45">F</text>
<text transform="scale(1,0.85)" x="1521" y="2046.2" font-size="19.2" text-anchor="middle" fill="#e2343c" stroke="#e2343c" stroke-width="0.45">C</text>
<text x="1747.8" y="1738.3" font-size="17" fill="#111" stroke="#111" stroke-width="0.3">1.02<tspan font-size="13.5">x</tspan>10<tspan font-size="11" dy="-7">-9</tspan></text>
<text x="34.6" y="1758.8" font-size="18.5" fill="#111" stroke="#111" stroke-width="0.25">ZCB11-v15</text>
<text transform="scale(1,0.85)" x="159.2 173.5 187.9 202.2 216.5 230.9 245.2 259.5 273.9 288.2 302.5 316.9 331.2 345.5 359.9 374.2 388.5 402.9 417.2 431.6 445.9 460.2 474.6 488.9 503.2 517.6 531.9 546.2 560.6 574.9 589.2 603.6 617.9 632.2 646.6 660.9 675.2 689.6 703.9 718.2 732.6 746.9 761.3 775.6 789.9 804.3 818.6 832.9 847.3 861.6 875.9 890.3 904.6 918.9 933.3 947.6 961.9 976.3 990.6 1005 1019.3 1033.6 1048 1062.3 1076.6 1091 1105.3 1119.6 1134 1148.3 1162.6 1177 1191.3 1205.6 1220 1234.3 1248.6 1263 1277.3 1291.7 1306 1320.3 1334.7 1349 1363.3 1377.7 1392 1406.3 1420.7 1435 1449.3 1463.7 1478 1492.3 1506.7 1521 1535.3 1549.7 1564 1578.4 1592.7 1607 1621.4 1635.7 1650 1664.4 1678.7 1693 1707.4 1721.7" y="2070.4" font-size="19.2" text-anchor="middle" fill="#111" stroke="#111" stroke-width="0.45">EIVLTQSPGTLSLSPGERATLSCRA--SQSVSS YLAWFQQKPGQAPRLLIFAASSRAIGIPARFSGSGSGTDFTLTISRLEPEDFAVYYCQQYS SPWTFGQGTKVEIK</text>
<text transform="scale(1,0.85)" x="632.2" y="2070.4" font-size="19.2" text-anchor="middle" fill="#e2343c" stroke="#e2343c" stroke-width="0.45">G</text>
<text transform="scale(1,0.85)" x="1521" y="2070.4" font-size="19.2" text-anchor="middle" fill="#e2343c" stroke="#e2343c" stroke-width="0.45">C</text>
<text x="1747.8" y="1758.8" font-size="17" fill="#111" stroke="#111" stroke-width="0.3">3.15<tspan font-size="13.5">x</tspan>10<tspan font-size="11" dy="-7">-9</tspan></text>
<text x="34.6" y="1779.3" font-size="18.5" fill="#111" stroke="#111" stroke-width="0.25">ZCB11-v16</text>
<text transform="scale(1,0.85)" x="159.2 173.5 187.9 202.2 216.5 230.9 245.2 259.5 273.9 288.2 302.5 316.9 331.2 345.5 359.9 374.2 388.5 402.9 417.2 431.6 445.9 460.2 474.6 488.9 503.2 517.6 531.9 546.2 560.6 574.9 589.2 603.6 617.9 632.2 646.6 660.9 675.2 689.6 703.9 718.2 732.6 746.9 761.3 775.6 789.9 804.3 818.6 832.9 847.3 861.6 875.9 890.3 904.6 918.9 933.3 947.6 961.9 976.3 990.6 1005 1019.3 1033.6 1048 1062.3 1076.6 1091 1105.3 1119.6 1134 1148.3 1162.6 1177 1191.3 1205.6 1220 1234.3 1248.6 1263 1277.3 1291.7 1306 1320.3 1334.7 1349 1363.3 1377.7 1392 1406.3 1420.7 1435 1449.3 1463.7 1478 1492.3 1506.7 1521 1535.3 1549.7 1564 1578.4 1592.7 1607 1621.4 1635.7 1650 1664.4 1678.7 1693 1707.4 1721.7" y="2094.5" font-size="19.2" text-anchor="middle" fill="#111" stroke="#111" stroke-width="0.45">EIVLTQSPGTLSLSPGERATLSCRA--SQSVSSSYLAWFQQKPGQAPRLLIFAASSRAIGIPARFSGSGSGTDFTLTISRLEPEDFAVYYCQ YS SPWTFGQGTKVEIK</text>
<text transform="scale(1,0.85)" x="1478" y="2094.5" font-size="19.2" text-anchor="middle" fill="#e2343c" stroke="#e2343c" stroke-width="0.45">H</text>
<text transform="scale(1,0.85)" x="1521" y="2094.5" font-size="19.2" text-anchor="middle" fill="#e2343c" stroke="#e2343c" stroke-width="0.45">T</text>
<text x="1747.8" y="1779.3" font-size="17" fill="#111" stroke="#111" stroke-width="0.3">5.52<tspan font-size="13.5">x</tspan>10<tspan font-size="11" dy="-7">-9</tspan></text>
<text x="34.6" y="1799.8" font-size="18.5" fill="#111" stroke="#111" stroke-width="0.25">ZCB11-v17</text>
<text transform="scale(1,0.85)" x="159.2 173.5 187.9 202.2 216.5 230.9 245.2 259.5 273.9 288.2 302.5 316.9 331.2 345.5 359.9 374.2 388.5 402.9 417.2 431.6 445.9 460.2 474.6 488.9 503.2 517.6 531.9 546.2 560.6 574.9 589.2 603.6 617.9 632.2 646.6 660.9 675.2 689.6 703.9 718.2 732.6 746.9 761.3 775.6 789.9 804.3 818.6 832.9 847.3 861.6 875.9 890.3 904.6 918.9 933.3 947.6 961.9 976.3 990.6 1005 1019.3 1033.6 1048 1062.3 1076.6 1091 1105.3 1119.6 1134 1148.3 1162.6 1177 1191.3 1205.6 1220 1234.3 1248.6 1263 1277.3 1291.7 1306 1320.3 1334.7 1349 1363.3 1377.7 1392 1406.3 1420.7 1435 1449.3 1463.7 1478 1492.3 1506.7 1521 1535.3 1549.7 1564 1578.4 1592.7 1607 1621.4 1635.7 1650 1664.4 1678.7 1693 1707.4 1721.7" y="2118.6" font-size="19.2" text-anchor="middle" fill="#111" stroke="#111" stroke-width="0.45">EIVLTQSPGTLSLSPGERATLSCRA  SQSVSSSYLAWFQQKPGQAPRLLIFAASSRAIGIPARFSGSGSGTDFTLTISRLEPEDFAVYYCQQYSSSPWTFGQGTKVEIK</text>
<text transform="scale(1,0.85)" x="517.6" y="2118.6" font-size="19.2" text-anchor="middle" fill="#e2343c" stroke="#e2343c" stroke-width="0.45">S</text>
<text transform="scale(1,0.85)" x="531.9" y="2118.6" font-size="19.2" text-anchor="middle" fill="#e2343c" stroke="#e2343c" stroke-width="0.45">Q</text>
<text x="1747.8" y="1799.8" font-size="17" fill="#111" stroke="#111" stroke-width="0.3">6.66<tspan font-size="13.5">x</tspan>10<tspan font-size="11" dy="-7">-9</tspan></text>
<text x="38" y="1900.4" font-size="18.5" font-weight="bold" fill="#111" >Heavy</text>
<line x1="266.5" y1="1903.5" x2="266.5" y2="1908.5" stroke="#222" stroke-width="2.4"/>
<text x="261.3" y="1900.9" font-size="16.5" fill="#111" stroke="#111" stroke-width="0.3">10</text>
<line x1="410.9" y1="1903.5" x2="410.9" y2="1908.5" stroke="#222" stroke-width="2.4"/>
<text x="405.7" y="1900.9" font-size="16.5" fill="#111" stroke="#111" stroke-width="0.3">20</text>
<line x1="555.2" y1="1903.5" x2="555.2" y2="1908.5" stroke="#222" stroke-width="2.4"/>
<text x="550" y="1900.9" font-size="16.5" fill="#111" stroke="#111" stroke-width="0.3">30</text>
<line x1="699.5" y1="1903.5" x2="699.5" y2="1908.5" stroke="#222" stroke-width="2.4"/>
<text x="694.3" y="1900.9" font-size="16.5" fill="#111" stroke="#111" stroke-width="0.3">40</text>
<line x1="843.9" y1="1903.5" x2="843.9" y2="1908.5" stroke="#222" stroke-width="2.4"/>
<text x="838.7" y="1900.9" font-size="16.5" fill="#111" stroke="#111" stroke-width="0.3">50</text>
<line x1="988.2" y1="1903.5" x2="988.2" y2="1908.5" stroke="#222" stroke-width="2.4"/>
<text x="983" y="1900.9" font-size="16.5" fill="#111" stroke="#111" stroke-width="0.3">60</text>
<line x1="1132.6" y1="1903.5" x2="1132.6" y2="1908.5" stroke="#222" stroke-width="2.4"/>
<text x="1127.4" y="1900.9" font-size="16.5" fill="#111" stroke="#111" stroke-width="0.3">70</text>
<line x1="1277" y1="1903.5" x2="1277" y2="1908.5" stroke="#222" stroke-width="2.4"/>
<text x="1271.8" y="1900.9" font-size="16.5" fill="#111" stroke="#111" stroke-width="0.3">80</text>
<line x1="1421.3" y1="1903.5" x2="1421.3" y2="1908.5" stroke="#222" stroke-width="2.4"/>
<text x="1416.1" y="1900.9" font-size="16.5" fill="#111" stroke="#111" stroke-width="0.3">90</text>
<line x1="1565.7" y1="1903.5" x2="1565.7" y2="1908.5" stroke="#222" stroke-width="2.4"/>
<text x="1560.5" y="1900.9" font-size="16.5" fill="#111" stroke="#111" stroke-width="0.3">100</text>
<line x1="1710" y1="1903.5" x2="1710" y2="1908.5" stroke="#222" stroke-width="2.4"/>
<text x="1704.8" y="1900.9" font-size="16.5" fill="#111" stroke="#111" stroke-width="0.3">110</text>
<line x1="1854.4" y1="1903.5" x2="1854.4" y2="1908.5" stroke="#222" stroke-width="2.4"/>
<text x="1849.2" y="1900.9" font-size="16.5" fill="#111" stroke="#111" stroke-width="0.3">120</text>
<text x="1982.6" y="1897.9" font-size="16.5" fill="#111" stroke="#111" stroke-width="0.25">K<tspan font-size="10.5" dy="5">D</tspan><tspan dy="-5"> (M)</tspan></text>
<text x="23.2" y="1928.3" font-size="18.5" fill="#111" stroke="#111" stroke-width="0.25">S309</text>
<text transform="scale(1,0.85)" x="138.1 152.5 167 181.4 195.8 210.3 224.7 239.1 253.6 268 282.4 296.9 311.3 325.7 340.2 354.6 369 383.5 397.9 412.4 426.8 441.2 455.7 470.1 484.5 499 513.4 527.8 542.3 556.7 571.1 585.6 600 614.4 628.9 643.3 657.7 672.2 686.6 701 715.5 729.9 744.4 758.8 773.2 787.7 802.1 816.5 831 845.4 859.8 874.3 888.7 903.1 917.6 932 946.4 960.9 975.3 989.8 1004.2 1018.6 1033.1 1047.5 1061.9 1076.4 1090.8 1105.2 1119.7 1134.1 1148.5 1163 1177.4 1191.8 1206.3 1220.7 1235.1 1249.6 1264 1278.5 1292.9 1307.3 1321.8 1336.2 1350.6 1365.1 1379.5 1393.9 1408.4 1422.8 1437.2 1451.7 1466.1 1480.5 1495 1509.4 1523.8 1538.3 1552.7 1567.2 1581.6 1596 1610.5 1624.9 1639.3 1653.8 1668.2 1682.6 1697.1 1711.5 1725.9 1740.4 1754.8 1769.2 1783.7 1798.1 1812.5 1827 1841.4 1855.9 1870.3 1884.7 1899.2 1913.6 1928 1942.5 1956.9" y="2268.6" font-size="19.2" text-anchor="middle" fill="#111" stroke="#111" stroke-width="0.45">QVQLVQSGAEVKKPGASVKVSCKASGYPFTSYGISWVRQAPGQGLEWMGWISTYNGNTNYAQKFQGRVTMTTDTSTTTGYMELRRLRSDDTAVYYCARDYTRGAWFGESLIGGFDNWGQGTLVTVSS</text>
<text x="1972.1" y="1928.3" font-size="17" fill="#111" stroke="#111" stroke-width="0.3">7.90<tspan font-size="13.5">x</tspan>10<tspan font-size="11" dy="-7">-9</tspan></text>
<text x="23.2" y="1948.9" font-size="18.5" fill="#111" stroke="#111" stroke-width="0.25">S309-v1</text>
<text transform="scale(1,0.85)" x="138.1 152.5 167 181.4 195.8 210.3 224.7 239.1 253.6 268 282.4 296.9 311.3 325.7 340.2 354.6 369 383.5 397.9 412.4 426.8 441.2 455.7 470.1 484.5 499 513.4 527.8 542.3 556.7 571.1 585.6 600 614.4 628.9 643.3 657.7 672.2 686.6 701 715.5 729.9 744.4 758.8 773.2 787.7 802.1 816.5 831 845.4 859.8 874.3 888.7 903.1 917.6 932 946.4 960.9 975.3 989.8 1004.2 1018.6 1033.1 1047.5 1061.9 1076.4 1090.8 1105.2 1119.7 1134.1 1148.5 1163 1177.4 1191.8 1206.3 1220.7 1235.1 1249.6 1264 1278.5 1292.9 1307.3 1321.8 1336.2 1350.6 1365.1 1379.5 1393.9 1408.4 1422.8 1437.2 1451.7 1466.1 1480.5 1495 1509.4 1523.8 1538.3 1552.7 1567.2 1581.6 1596 1610.5 1624.9 1639.3 1653.8 1668.2 1682.6 1697.1 1711.5 1725.9 1740.4 1754.8 1769.2 1783.7 1798.1 1812.5 1827 1841.4 1855.9 1870.3 1884.7 1899.2 1913.6 1928 1942.5 1956.9" y="2292.9" font-size="19.2" text-anchor="middle" fill="#111" stroke="#111" stroke-width="0.45">QVQLVQSGAEVKKPGASVKVSCKASGYPFT YGISWVRQAPGQGLEWMGWISTYNGNTNYAQKFQGRVTMTTDTSTTTGYMELRRLRSDDTAVYYCARDYTRGAWFGESLIGGFDNWGQGTLVTVSS</text>
<text transform="scale(1,0.85)" x="571.1" y="2292.9" font-size="19.2" text-anchor="middle" fill="#e34a55" stroke="#e34a55" stroke-width="0">N</text>
<text x="1972.1" y="1948.9" font-size="17" fill="#111" stroke="#111" stroke-width="0.3">8.33<tspan font-size="13.5">x</tspan>10<tspan font-size="11" dy="-7">-9</tspan></text>
<text x="23.2" y="1969.6" font-size="18.5" fill="#111" stroke="#111" stroke-width="0.25">S309-v2</text>
<text transform="scale(1,0.85)" x="138.1 152.5 167 181.4 195.8 210.3 224.7 239.1 253.6 268 282.4 296.9 311.3 325.7 340.2 354.6 369 383.5 397.9 412.4 426.8 441.2 455.7 470.1 484.5 499 513.4 527.8 542.3 556.7 571.1 585.6 600 614.4 628.9 643.3 657.7 672.2 686.6 701 715.5 729.9 744.4 758.8 773.2 787.7 802.1 816.5 831 845.4 859.8 874.3 888.7 903.1 917.6 932 946.4 960.9 975.3 989.8 1004.2 1018.6 1033.1 1047.5 1061.9 1076.4 1090.8 1105.2 1119.7 1134.1 1148.5 1163 1177.4 1191.8 1206.3 1220.7 1235.1 1249.6 1264 1278.5 1292.9 1307.3 1321.8 1336.2 1350.6 1365.1 1379.5 1393.9 1408.4 1422.8 1437.2 1451.7 1466.1 1480.5 1495 1509.4 1523.8 1538.3 1552.7 1567.2 1581.6 1596 1610.5 1624.9 1639.3 1653.8 1668.2 1682.6 1697.1 1711.5 1725.9 1740.4 1754.8 1769.2 1783.7 1798.1 1812.5 1827 1841.4 1855.9 1870.3 1884.7 1899.2 1913.6 1928 1942.5 1956.9" y="2317.2" font-size="19.2" text-anchor="middle" fill="#111" stroke="#111" stroke-width="0.45">QVQLVQSGAEVKKPGASVKVSCKASGYPFTSYGISWVRQAPGQGLEWMGWISTYNGNTNYAQKFQ RVTMTTDTSTTTGYMELRRLRSDDTAVYYCARDYTRGAWFGESLIGGFDNWGQGTLVTVSS</text>
<text transform="scale(1,0.85)" x="1076.4" y="2317.2" font-size="19.2" text-anchor="middle" fill="#e34a55" stroke="#e34a55" stroke-width="0">D</text>
<text x="1972.1" y="1969.6" font-size="17" fill="#111" stroke="#111" stroke-width="0.3">3.86<tspan font-size="13.5">x</tspan>10<tspan font-size="11" dy="-7">-9</tspan></text>
<text x="23.2" y="1990.2" font-size="18.5" fill="#111" stroke="#111" stroke-width="0.25">S309-v3</text>
<text transform="scale(1,0.85)" x="138.1 152.5 167 181.4 195.8 210.3 224.7 239.1 253.6 268 282.4 296.9 311.3 325.7 340.2 354.6 369 383.5 397.9 412.4 426.8 441.2 455.7 470.1 484.5 499 513.4 527.8 542.3 556.7 571.1 585.6 600 614.4 628.9 643.3 657.7 672.2 686.6 701 715.5 729.9 744.4 758.8 773.2 787.7 802.1 816.5 831 845.4 859.8 874.3 888.7 903.1 917.6 932 946.4 960.9 975.3 989.8 1004.2 1018.6 1033.1 1047.5 1061.9 1076.4 1090.8 1105.2 1119.7 1134.1 1148.5 1163 1177.4 1191.8 1206.3 1220.7 1235.1 1249.6 1264 1278.5 1292.9 1307.3 1321.8 1336.2 1350.6 1365.1 1379.5 1393.9 1408.4 1422.8 1437.2 1451.7 1466.1 1480.5 1495 1509.4 1523.8 1538.3 1552.7 1567.2 1581.6 1596 1610.5 1624.9 1639.3 1653.8 1668.2 1682.6 1697.1 1711.5 1725.9 1740.4 1754.8 1769.2 1783.7 1798.1 1812.5 1827 1841.4 1855.9 1870.3 1884.7 1899.2 1913.6 1928 1942.5 1956.9" y="2341.4" font-size="19.2" text-anchor="middle" fill="#111" stroke="#111" stroke-width="0.45">QVQLVQSGAEVKKPGASVKVSCKASGYPFTSYGISWVRQAPGQGLEWMGWISTYNG TNYAQKFQGRVTMTTDTSTTTGYMELRRLRSDDTAVYYCARDYTRGAWFGESLIGGFDNWGQGTLVTVSS</text>
<text transform="scale(1,0.85)" x="946.4" y="2341.4" font-size="19.2" text-anchor="middle" fill="#e34a55" stroke="#e34a55" stroke-width="0">D</text>
<text x="1972.1" y="1990.2" font-size="17" fill="#111" stroke="#111" stroke-width="0.3">3.62<tspan font-size="13.5">x</tspan>10<tspan font-size="11" dy="-7">-9</tspan></text>
<text x="23.2" y="2010.9" font-size="18.5" fill="#111" stroke="#111" stroke-width="0.25">S309-v4</text>
<text transform="scale(1,0.85)" x="138.1 152.5 167 181.4 195.8 210.3 224.7 239.1 253.6 268 282.4 296.9 311.3 325.7 340.2 354.6 369 383.5 397.9 412.4 426.8 441.2 455.7 470.1 484.5 499 513.4 527.8 542.3 556.7 571.1 585.6 600 614.4 628.9 643.3 657.7 672.2 686.6 701 715.5 729.9 744.4 758.8 773.2 787.7 802.1 816.5 831 845.4 859.8 874.3 888.7 903.1 917.6 932 946.4 960.9 975.3 989.8 1004.2 1018.6 1033.1 1047.5 1061.9 1076.4 1090.8 1105.2 1119.7 1134.1 1148.5 1163 1177.4 1191.8 1206.3 1220.7 1235.1 1249.6 1264 1278.5 1292.9 1307.3 1321.8 1336.2 1350.6 1365.1 1379.5 1393.9 1408.4 1422.8 1437.2 1451.7 1466.1 1480.5 1495 1509.4 1523.8 1538.3 1552.7 1567.2 1581.6 1596 1610.5 1624.9 1639.3 1653.8 1668.2 1682.6 1697.1 1711.5 1725.9 1740.4 1754.8 1769.2 1783.7 1798.1 1812.5 1827 1841.4 1855.9 1870.3 1884.7 1899.2 1913.6 1928 1942.5 1956.9" y="2365.7" font-size="19.2" text-anchor="middle" fill="#111" stroke="#111" stroke-width="0.45">QVQLVQSGAEVKKPGASVKVSCKASGYPFTSYGISWVRQAPGQGLEWMGWISTYNGNTNYAQKFQGRV MTTDTSTTTGYMELRRLRSDDTAVYYCARDYTRGAWFGESLIGGFDNWGQGTLVTVSS</text>
<text transform="scale(1,0.85)" x="1119.7" y="2365.7" font-size="19.2" text-anchor="middle" fill="#e34a55" stroke="#e34a55" stroke-width="0">I</text>
<text x="1972.1" y="2010.9" font-size="17" fill="#111" stroke="#111" stroke-width="0.3">4.02<tspan font-size="13.5">x</tspan>10<tspan font-size="11" dy="-7">-9</tspan></text>
<text x="23.2" y="2031.5" font-size="18.5" fill="#111" stroke="#111" stroke-width="0.25">S309-v5</text>
<text transform="scale(1,0.85)" x="138.1 152.5 167 181.4 195.8 210.3 224.7 239.1 253.6 268 282.4 296.9 311.3 325.7 340.2 354.6 369 383.5 397.9 412.4 426.8 441.2 455.7 470.1 484.5 499 513.4 527.8 542.3 556.7 571.1 585.6 600 614.4 628.9 643.3 657.7 672.2 686.6 701 715.5 729.9 744.4 758.8 773.2 787.7 802.1 816.5 831 845.4 859.8 874.3 888.7 903.1 917.6 932 946.4 960.9 975.3 989.8 1004.2 1018.6 1033.1 1047.5 1061.9 1076.4 1090.8 1105.2 1119.7 1134.1 1148.5 1163 1177.4 1191.8 1206.3 1220.7 1235.1 1249.6 1264 1278.5 1292.9 1307.3 1321.8 1336.2 1350.6 1365.1 1379.5 1393.9 1408.4 1422.8 1437.2 1451.7 1466.1 1480.5 1495 1509.4 1523.8 1538.3 1552.7 1567.2 1581.6 1596 1610.5 1624.9 1639.3 1653.8 1668.2 1682.6 1697.1 1711.5 1725.9 1740.4 1754.8 1769.2 1783.7 1798.1 1812.5 1827 1841.4 1855.9 1870.3 1884.7 1899.2 1913.6 1928 1942.5 1956.9" y="2390" font-size="19.2" text-anchor="middle" fill="#111" stroke="#111" stroke-width="0.45">QVQLVQSGAEVKKPGASVKVSCKASGYPFTSYGISWVRQAPGQGLEWMGWISTYNGNTNYAQKFQGRVTMTTDTSTTTGYMELR LRSDDTAVYYCARDYTRGAWFGESLIGGFDNWGQGTLVTVSS</text>
<text transform="scale(1,0.85)" x="1350.6" y="2390" font-size="19.2" text-anchor="middle" fill="#e34a55" stroke="#e34a55" stroke-width="0">G</text>
<text x="1972.1" y="2031.5" font-size="17" fill="#111" stroke="#111" stroke-width="0.3">1.59<tspan font-size="13.5">x</tspan>10<tspan font-size="11" dy="-7">-9</tspan></text>
<text x="23.2" y="2052.1" font-size="18.5" fill="#111" stroke="#111" stroke-width="0.25">S309-v6</text>
<text transform="scale(1,0.85)" x="138.1 152.5 167 181.4 195.8 210.3 224.7 239.1 253.6 268 282.4 296.9 311.3 325.7 340.2 354.6 369 383.5 397.9 412.4 426.8 441.2 455.7 470.1 484.5 499 513.4 527.8 542.3 556.7 571.1 585.6 600 614.4 628.9 643.3 657.7 672.2 686.6 701 715.5 729.9 744.4 758.8 773.2 787.7 802.1 816.5 831 845.4 859.8 874.3 888.7 903.1 917.6 932 946.4 960.9 975.3 989.8 1004.2 1018.6 1033.1 1047.5 1061.9 1076.4 1090.8 1105.2 1119.7 1134.1 1148.5 1163 1177.4 1191.8 1206.3 1220.7 1235.1 1249.6 1264 1278.5 1292.9 1307.3 1321.8 1336.2 1350.6 1365.1 1379.5 1393.9 1408.4 1422.8 1437.2 1451.7 1466.1 1480.5 1495 1509.4 1523.8 1538.3 1552.7 1567.2 1581.6 1596 1610.5 1624.9 1639.3 1653.8 1668.2 1682.6 1697.1 1711.5 1725.9 1740.4 1754.8 1769.2 1783.7 1798.1 1812.5 1827 1841.4 1855.9 1870.3 1884.7 1899.2 1913.6 1928 1942.5 1956.9" y="2414.3" font-size="19.2" text-anchor="middle" fill="#111" stroke="#111" stroke-width="0.45">QVQLVQSGAEVKKPGASVKVSCKASGYPFTSYG SWVRQAPGQGLEWMGWISTYNGNTNYAQKFQGRVTMTTDTSTTTGYMELRRLRSD TAVYYCARDYTRGAWFGESLIGGFDNWGQGTLVTVSS</text>
<text transform="scale(1,0.85)" x="614.4" y="2414.3" font-size="19.2" text-anchor="middle" fill="#e34a55" stroke="#e34a55" stroke-width="0">F</text>
<text transform="scale(1,0.85)" x="1422.8" y="2414.3" font-size="19.2" text-anchor="middle" fill="#e34a55" stroke="#e34a55" stroke-width="0">E</text>
<text x="1972.1" y="2052.1" font-size="17" fill="#111" stroke="#111" stroke-width="0.3">8.11<tspan font-size="13.5">x</tspan>10<tspan font-size="11" dy="-7">-9</tspan></text>
<text x="23.2" y="2072.8" font-size="18.5" fill="#111" stroke="#111" stroke-width="0.25">S309-v7</text>
<text transform="scale(1,0.85)" x="138.1 152.5 167 181.4 195.8 210.3 224.7 239.1 253.6 268 282.4 296.9 311.3 325.7 340.2 354.6 369 383.5 397.9 412.4 426.8 441.2 455.7 470.1 484.5 499 513.4 527.8 542.3 556.7 571.1 585.6 600 614.4 628.9 643.3 657.7 672.2 686.6 701 715.5 729.9 744.4 758.8 773.2 787.7 802.1 816.5 831 845.4 859.8 874.3 888.7 903.1 917.6 932 946.4 960.9 975.3 989.8 1004.2 1018.6 1033.1 1047.5 1061.9 1076.4 1090.8 1105.2 1119.7 1134.1 1148.5 1163 1177.4 1191.8 1206.3 1220.7 1235.1 1249.6 1264 1278.5 1292.9 1307.3 1321.8 1336.2 1350.6 1365.1 1379.5 1393.9 1408.4 1422.8 1437.2 1451.7 1466.1 1480.5 1495 1509.4 1523.8 1538.3 1552.7 1567.2 1581.6 1596 1610.5 1624.9 1639.3 1653.8 1668.2 1682.6 1697.1 1711.5 1725.9 1740.4 1754.8 1769.2 1783.7 1798.1 1812.5 1827 1841.4 1855.9 1870.3 1884.7 1899.2 1913.6 1928 1942.5 1956.9" y="2438.6" font-size="19.2" text-anchor="middle" fill="#111" stroke="#111" stroke-width="0.45">QVQLVQSGAEVKKPGASVKVSCKASG PFTSYG SWVRQAPGQGLEWMGWISTYNGNTNYAQKFQGRVTMTTDTSTTTGYMELRRLRSDDTAVYYCARDYTRGAWFGESLIGGFDNWGQGTLVTVSS</text>
<text transform="scale(1,0.85)" x="513.4" y="2438.6" font-size="19.2" text-anchor="middle" fill="#e34a55" stroke="#e34a55" stroke-width="0">F</text>
<text transform="scale(1,0.85)" x="614.4" y="2438.6" font-size="19.2" text-anchor="middle" fill="#e34a55" stroke="#e34a55" stroke-width="0">F</text>
<text x="1972.1" y="2072.8" font-size="17" fill="#111" stroke="#111" stroke-width="0.3">5.57<tspan font-size="13.5">x</tspan>10<tspan font-size="11" dy="-7">-9</tspan></text>
<text x="38.8" y="2137" font-size="18.5" font-weight="bold" fill="#111" >Light</text>
<line x1="188.9" y1="2134.7" x2="188.9" y2="2139.8" stroke="#222" stroke-width="2.2"/>
<line x1="260.7" y1="2134.7" x2="260.7" y2="2139.8" stroke="#222" stroke-width="2.2"/>
<text x="255.5" y="2130.7" font-size="16.5" fill="#111" stroke="#111" stroke-width="0.3">10</text>
<line x1="332.5" y1="2134.7" x2="332.5" y2="2139.8" stroke="#222" stroke-width="2.2"/>
<line x1="404.4" y1="2134.7" x2="404.4" y2="2139.8" stroke="#222" stroke-width="2.2"/>
<text x="399.2" y="2130.7" font-size="16.5" fill="#111" stroke="#111" stroke-width="0.3">20</text>
<line x1="476.2" y1="2134.7" x2="476.2" y2="2139.8" stroke="#222" stroke-width="2.2"/>
<line x1="548" y1="2134.7" x2="548" y2="2139.8" stroke="#222" stroke-width="2.2"/>
<text x="542.8" y="2130.7" font-size="16.5" fill="#111" stroke="#111" stroke-width="0.3">30</text>
<line x1="619.9" y1="2134.7" x2="619.9" y2="2139.8" stroke="#222" stroke-width="2.2"/>
<line x1="691.7" y1="2134.7" x2="691.7" y2="2139.8" stroke="#222" stroke-width="2.2"/>
<text x="686.5" y="2130.7" font-size="16.5" fill="#111" stroke="#111" stroke-width="0.3">40</text>
<line x1="763.5" y1="2134.7" x2="763.5" y2="2139.8" stroke="#222" stroke-width="2.2"/>
<line x1="835.4" y1="2134.7" x2="835.4" y2="2139.8" stroke="#222" stroke-width="2.2"/>
<text x="830.2" y="2130.7" font-size="16.5" fill="#111" stroke="#111" stroke-width="0.3">50</text>
<line x1="907.2" y1="2134.7" x2="907.2" y2="2139.8" stroke="#222" stroke-width="2.2"/>
<line x1="979" y1="2134.7" x2="979" y2="2139.8" stroke="#222" stroke-width="2.2"/>
<text x="973.8" y="2130.7" font-size="16.5" fill="#111" stroke="#111" stroke-width="0.3">60</text>
<line x1="1050.9" y1="2134.7" x2="1050.9" y2="2139.8" stroke="#222" stroke-width="2.2"/>
<line x1="1122.7" y1="2134.7" x2="1122.7" y2="2139.8" stroke="#222" stroke-width="2.2"/>
<text x="1117.5" y="2130.7" font-size="16.5" fill="#111" stroke="#111" stroke-width="0.3">70</text>
<line x1="1194.6" y1="2134.7" x2="1194.6" y2="2139.8" stroke="#222" stroke-width="2.2"/>
<line x1="1266.4" y1="2134.7" x2="1266.4" y2="2139.8" stroke="#222" stroke-width="2.2"/>
<text x="1261.2" y="2130.7" font-size="16.5" fill="#111" stroke="#111" stroke-width="0.3">80</text>
<line x1="1338.2" y1="2134.7" x2="1338.2" y2="2139.8" stroke="#222" stroke-width="2.2"/>
<line x1="1410.1" y1="2134.7" x2="1410.1" y2="2139.8" stroke="#222" stroke-width="2.2"/>
<text x="1404.9" y="2130.7" font-size="16.5" fill="#111" stroke="#111" stroke-width="0.3">90</text>
<line x1="1481.9" y1="2134.7" x2="1481.9" y2="2139.8" stroke="#222" stroke-width="2.2"/>
<line x1="1553.7" y1="2134.7" x2="1553.7" y2="2139.8" stroke="#222" stroke-width="2.2"/>
<text x="1548.5" y="2130.7" font-size="16.5" fill="#111" stroke="#111" stroke-width="0.3">100</text>
<line x1="1625.6" y1="2134.7" x2="1625.6" y2="2139.8" stroke="#222" stroke-width="2.2"/>
<text x="1683.6" y="2131.6" font-size="16.5" fill="#111" stroke="#111" stroke-width="0.25">K<tspan font-size="10.5" dy="5">D</tspan><tspan dy="-5"> (M)</tspan></text>
<text x="23.2" y="2157.4" font-size="18.5" fill="#111" stroke="#111" stroke-width="0.25">S309</text>
<text transform="scale(1,0.85)" x="132.4 146.8 161.1 175.5 189.9 204.2 218.6 233 247.3 261.7 276.1 290.4 304.8 319.2 333.5 347.9 362.3 376.6 391 405.4 419.7 434.1 448.5 462.8 477.2 491.6 505.9 520.3 534.7 549 563.4 577.8 592.1 606.5 620.9 635.2 649.6 664 678.3 692.7 707.1 721.4 735.8 750.2 764.5 778.9 793.3 807.6 822 836.4 850.7 865.1 879.5 893.8 908.2 922.6 936.9 951.3 965.7 980 994.4 1008.8 1023.2 1037.5 1051.9 1066.3 1080.6 1095 1109.4 1123.7 1138.1 1152.5 1166.8 1181.2 1195.6 1209.9 1224.3 1238.7 1253 1267.4 1281.8 1296.1 1310.5 1324.9 1339.2 1353.6 1368 1382.3 1396.7 1411.1 1425.4 1439.8 1454.2 1468.5 1482.9 1497.3 1511.6 1526 1540.4 1554.7 1569.1 1583.5 1597.8 1612.2 1626.6 1640.9 1655.3" y="2538.1" font-size="19.2" text-anchor="middle" fill="#111" stroke="#111" stroke-width="0.45">EIVLTQSPGTLSLSPGERATLSCRASQTVSSTSLAWYQQKPGQAPRLLIYGASSRATGIPDRFSGSGSGTDFTLTISRLEPEDFAVYYCQQHDTSLTFGGGTKVEIK</text>
<text x="1672.3" y="2157.4" font-size="17" fill="#111" stroke="#111" stroke-width="0.3">7.90<tspan font-size="13.5">x</tspan>10<tspan font-size="11" dy="-7">-9</tspan></text>
<text x="23.2" y="2178" font-size="18.5" fill="#111" stroke="#111" stroke-width="0.25">S309-v8</text>
<text transform="scale(1,0.85)" x="132.4 146.8 161.1 175.5 189.9 204.2 218.6 233 247.3 261.7 276.1 290.4 304.8 319.2 333.5 347.9 362.3 376.6 391 405.4 419.7 434.1 448.5 462.8 477.2 491.6 505.9 520.3 534.7 549 563.4 577.8 592.1 606.5 620.9 635.2 649.6 664 678.3 692.7 707.1 721.4 735.8 750.2 764.5 778.9 793.3 807.6 822 836.4 850.7 865.1 879.5 893.8 908.2 922.6 936.9 951.3 965.7 980 994.4 1008.8 1023.2 1037.5 1051.9 1066.3 1080.6 1095 1109.4 1123.7 1138.1 1152.5 1166.8 1181.2 1195.6 1209.9 1224.3 1238.7 1253 1267.4 1281.8 1296.1 1310.5 1324.9 1339.2 1353.6 1368 1382.3 1396.7 1411.1 1425.4 1439.8 1454.2 1468.5 1482.9 1497.3 1511.6 1526 1540.4 1554.7 1569.1 1583.5 1597.8 1612.2 1626.6 1640.9 1655.3" y="2562.3" font-size="19.2" text-anchor="middle" fill="#111" stroke="#111" stroke-width="0.45">EIVLTQSPGTLSLSPGERA LSCRASQTVSSTSLAWYQQKPGQAPRLLIYGASSRATGIPDRFSGSGSGTDFTLTISRLEPEDFAVYYCQQHDTSLTFGGGTKVEIK</text>
<text transform="scale(1,0.85)" x="405.4" y="2562.3" font-size="19.2" text-anchor="middle" fill="#e34a55" stroke="#e34a55" stroke-width="0">I</text>
<text x="1672.3" y="2178" font-size="17" fill="#111" stroke="#111" stroke-width="0.3">1.60<tspan font-size="13.5">x</tspan>10<tspan font-size="11" dy="-7">-9</tspan></text>
<text x="23.2" y="2198.6" font-size="18.5" fill="#111" stroke="#111" stroke-width="0.25">S309-v9</text>
<text transform="scale(1,0.85)" x="132.4 146.8 161.1 175.5 189.9 204.2 218.6 233 247.3 261.7 276.1 290.4 304.8 319.2 333.5 347.9 362.3 376.6 391 405.4 419.7 434.1 448.5 462.8 477.2 491.6 505.9 520.3 534.7 549 563.4 577.8 592.1 606.5 620.9 635.2 649.6 664 678.3 692.7 707.1 721.4 735.8 750.2 764.5 778.9 793.3 807.6 822 836.4 850.7 865.1 879.5 893.8 908.2 922.6 936.9 951.3 965.7 980 994.4 1008.8 1023.2 1037.5 1051.9 1066.3 1080.6 1095 1109.4 1123.7 1138.1 1152.5 1166.8 1181.2 1195.6 1209.9 1224.3 1238.7 1253 1267.4 1281.8 1296.1 1310.5 1324.9 1339.2 1353.6 1368 1382.3 1396.7 1411.1 1425.4 1439.8 1454.2 1468.5 1482.9 1497.3 1511.6 1526 1540.4 1554.7 1569.1 1583.5 1597.8 1612.2 1626.6 1640.9 1655.3" y="2586.5" font-size="19.2" text-anchor="middle" fill="#111" stroke="#111" stroke-width="0.45">EIVLTQSPGTLSLSPGERATLSCRASQTVSSTSLAWYQQKPGQAPRLLIYGASSRATGIPDRFSGSGSGTDFTLTISRLEPED AVYYCQQHDTSLTFGGGTKVEIK</text>
<text transform="scale(1,0.85)" x="1324.9" y="2586.5" font-size="19.2" text-anchor="middle" fill="#e34a55" stroke="#e34a55" stroke-width="0">L</text>
<text x="1672.3" y="2198.6" font-size="17" fill="#111" stroke="#111" stroke-width="0.3">1.46<tspan font-size="13.5">x</tspan>10<tspan font-size="11" dy="-7">-9</tspan></text>
<text x="23.2" y="2219.1" font-size="18.5" fill="#111" stroke="#111" stroke-width="0.25">S309-v10</text>
<text transform="scale(1,0.85)" x="132.4 146.8 161.1 175.5 189.9 204.2 218.6 233 247.3 261.7 276.1 290.4 304.8 319.2 333.5 347.9 362.3 376.6 391 405.4 419.7 434.1 448.5 462.8 477.2 491.6 505.9 520.3 534.7 549 563.4 577.8 592.1 606.5 620.9 635.2 649.6 664 678.3 692.7 707.1 721.4 735.8 750.2 764.5 778.9 793.3 807.6 822 836.4 850.7 865.1 879.5 893.8 908.2 922.6 936.9 951.3 965.7 980 994.4 1008.8 1023.2 1037.5 1051.9 1066.3 1080.6 1095 1109.4 1123.7 1138.1 1152.5 1166.8 1181.2 1195.6 1209.9 1224.3 1238.7 1253 1267.4 1281.8 1296.1 1310.5 1324.9 1339.2 1353.6 1368 1382.3 1396.7 1411.1 1425.4 1439.8 1454.2 1468.5 1482.9 1497.3 1511.6 1526 1540.4 1554.7 1569.1 1583.5 1597.8 1612.2 1626.6 1640.9 1655.3" y="2610.8" font-size="19.2" text-anchor="middle" fill="#111" stroke="#111" stroke-width="0.45">EIVLTQSPGTLSLSPGERATLSCRASQTVSSTSLAWYQQKPGQAPRLLIYGASSRATGIPDRFSGSGSGTDFTLTISRLEPEDFAVYYCQQHD SLTFGGGTKVEIK</text>
<text transform="scale(1,0.85)" x="1468.5" y="2610.8" font-size="19.2" text-anchor="middle" fill="#e34a55" stroke="#e34a55" stroke-width="0">N</text>
<text x="1672.3" y="2219.1" font-size="17" fill="#111" stroke="#111" stroke-width="0.3">3.60<tspan font-size="13.5">x</tspan>10<tspan font-size="11" dy="-7">-9</tspan></text>
<text x="23.2" y="2239.7" font-size="18.5" fill="#111" stroke="#111" stroke-width="0.25">S309-v11</text>
<text transform="scale(1,0.85)" x="132.4 146.8 161.1 175.5 189.9 204.2 218.6 233 247.3 261.7 276.1 290.4 304.8 319.2 333.5 347.9 362.3 376.6 391 405.4 419.7 434.1 448.5 462.8 477.2 491.6 505.9 520.3 534.7 549 563.4 577.8 592.1 606.5 620.9 635.2 649.6 664 678.3 692.7 707.1 721.4 735.8 750.2 764.5 778.9 793.3 807.6 822 836.4 850.7 865.1 879.5 893.8 908.2 922.6 936.9 951.3 965.7 980 994.4 1008.8 1023.2 1037.5 1051.9 1066.3 1080.6 1095 1109.4 1123.7 1138.1 1152.5 1166.8 1181.2 1195.6 1209.9 1224.3 1238.7 1253 1267.4 1281.8 1296.1 1310.5 1324.9 1339.2 1353.6 1368 1382.3 1396.7 1411.1 1425.4 1439.8 1454.2 1468.5 1482.9 1497.3 1511.6 1526 1540.4 1554.7 1569.1 1583.5 1597.8 1612.2 1626.6 1640.9 1655.3" y="2635" font-size="19.2" text-anchor="middle" fill="#111" stroke="#111" stroke-width="0.45">EIVLTQSPGTLSLSPGERATLSCRASQTVSSTSLAWYQQKPGQAPRLLIYGASSRATGIPDRFSGSGSGTDFTLTISRLEPEDFAVYYCQQHDTSLTFGGGTKVE K</text>
<text transform="scale(1,0.85)" x="1640.9" y="2635" font-size="19.2" text-anchor="middle" fill="#e34a55" stroke="#e34a55" stroke-width="0">L</text>
<text x="1672.3" y="2239.7" font-size="17" fill="#111" stroke="#111" stroke-width="0.3">7.06<tspan font-size="13.5">x</tspan>10<tspan font-size="11" dy="-7">-9</tspan></text>
<text x="23.2" y="2260.3" font-size="18.5" fill="#111" stroke="#111" stroke-width="0.25">S309-v12</text>
<text transform="scale(1,0.85)" x="132.4 146.8 161.1 175.5 189.9 204.2 218.6 233 247.3 261.7 276.1 290.4 304.8 319.2 333.5 347.9 362.3 376.6 391 405.4 419.7 434.1 448.5 462.8 477.2 491.6 505.9 520.3 534.7 549 563.4 577.8 592.1 606.5 620.9 635.2 649.6 664 678.3 692.7 707.1 721.4 735.8 750.2 764.5 778.9 793.3 807.6 822 836.4 850.7 865.1 879.5 893.8 908.2 922.6 936.9 951.3 965.7 980 994.4 1008.8 1023.2 1037.5 1051.9 1066.3 1080.6 1095 1109.4 1123.7 1138.1 1152.5 1166.8 1181.2 1195.6 1209.9 1224.3 1238.7 1253 1267.4 1281.8 1296.1 1310.5 1324.9 1339.2 1353.6 1368 1382.3 1396.7 1411.1 1425.4 1439.8 1454.2 1468.5 1482.9 1497.3 1511.6 1526 1540.4 1554.7 1569.1 1583.5 1597.8 1612.2 1626.6 1640.9 1655.3" y="2659.2" font-size="19.2" text-anchor="middle" fill="#111" stroke="#111" stroke-width="0.45">EIVLTQSPGTLSLSPGERATLSCRASQTVSSTSLAWYQQKPGQAPRLLIYGASSRATGIPDRFSGSGSGTDFTLTISRLEPEDFAV YCQQHDTSLTFGGGTKVEIK</text>
<text transform="scale(1,0.85)" x="1368" y="2659.2" font-size="19.2" text-anchor="middle" fill="#e34a55" stroke="#e34a55" stroke-width="0">F</text>
<text x="1672.3" y="2260.3" font-size="17" fill="#111" stroke="#111" stroke-width="0.3">2.99<tspan font-size="13.5">x</tspan>10<tspan font-size="11" dy="-7">-9</tspan></text>
<text x="-4" y="2358.2" font-size="49" fill="#111" >c</text>
<text x="195.7" y="2370.4" font-size="22" font-weight="bold" fill="#111" textLength="262" lengthAdjust="spacingAndGlyphs">XBB.1.5 pseudoviruses</text>
<text x="223.9" y="2393.9" font-size="19.5" fill="#111" textLength="176" lengthAdjust="spacingAndGlyphs">(Immunogen strain)</text>
<path d="M144,2401.5 V2631.1 H488.4" fill="none" stroke="#111" stroke-width="2"/>
<line x1="135" y1="2631.1" x2="144" y2="2631.1" stroke="#111" stroke-width="2"/>
<text x="134" y="2637.9" font-size="19.5" text-anchor="end" fill="#111" stroke="#111" stroke-width="0.3">0</text>
<line x1="135" y1="2554.6" x2="144" y2="2554.6" stroke="#111" stroke-width="2"/>
<text x="134" y="2561.4" font-size="19.5" text-anchor="end" fill="#111" stroke="#111" stroke-width="0.3">50</text>
<line x1="135" y1="2478" x2="144" y2="2478" stroke="#111" stroke-width="2"/>
<text x="134" y="2484.8" font-size="19.5" text-anchor="end" fill="#111" stroke="#111" stroke-width="0.3">100</text>
<line x1="135" y1="2401.5" x2="144" y2="2401.5" stroke="#111" stroke-width="2"/>
<text x="134" y="2408.3" font-size="19.5" text-anchor="end" fill="#111" stroke="#111" stroke-width="0.3">150</text>
<line x1="144" y1="2631.1" x2="144" y2="2640.1" stroke="#111" stroke-width="2"/>
<text x="143" y="2663.3" font-size="20" text-anchor="middle" fill="#111" stroke="#111" stroke-width="0.3">10<tspan font-size="14" dy="-8">-4</tspan></text>
<line x1="258.8" y1="2631.1" x2="258.8" y2="2640.1" stroke="#111" stroke-width="2"/>
<text x="257.8" y="2663.3" font-size="20" text-anchor="middle" fill="#111" stroke="#111" stroke-width="0.3">10<tspan font-size="14" dy="-8">-2</tspan></text>
<line x1="373.6" y1="2631.1" x2="373.6" y2="2640.1" stroke="#111" stroke-width="2"/>
<text x="372.6" y="2663.3" font-size="20" text-anchor="middle" fill="#111" stroke="#111" stroke-width="0.3">10<tspan font-size="14" dy="-8">0</tspan></text>
<line x1="488.4" y1="2631.1" x2="488.4" y2="2640.1" stroke="#111" stroke-width="2"/>
<text x="487.4" y="2663.3" font-size="20" text-anchor="middle" fill="#111" stroke="#111" stroke-width="0.3">10<tspan font-size="14" dy="-8">2</tspan></text>
<text x="328.7" y="2686.9" font-size="20" text-anchor="middle" fill="#111" stroke="#111" stroke-width="0.3">Concentration  (µg/mL)</text>
<text x="0" y="0" font-size="19.5" text-anchor="middle" fill="#111" transform="translate(91.5,2512.9) rotate(-90)">Infection %</text>
<polyline points="192.4,2479.8 195.7,2482.8 199,2485.8 202.3,2488.6 205.6,2491.3 208.9,2494 212.2,2496.6 215.6,2499.1 218.9,2501.5 222.2,2503.8 225.5,2506.1 228.8,2508.3 232.1,2510.4 235.4,2512.5 238.7,2514.5 242,2516.5 245.3,2518.4 248.7,2520.2 252,2521.9 255.3,2523.7 258.6,2525.3 261.9,2526.9 265.2,2528.5 268.5,2530 271.8,2531.5 275.1,2532.9 278.4,2534.3 281.7,2535.6 285.1,2536.9 288.4,2538.1 291.7,2539.4 295,2540.5 298.3,2541.7 301.6,2542.8 304.9,2543.9 308.2,2544.9 311.5,2545.9 314.8,2546.9 318.2,2547.8 321.5,2548.7 324.8,2549.6 328.1,2550.5 331.4,2551.3 334.7,2552.1 338,2552.9 341.3,2553.7 344.6,2554.4 347.9,2555.1 351.2,2555.8 354.6,2556.5 357.9,2557.1 361.2,2557.8 364.5,2558.4 367.8,2559 371.1,2559.5 374.4,2560.1 377.7,2560.6 381,2561.1 384.3,2561.6 387.7,2562.1 391,2562.6 394.3,2563.1 397.6,2563.5 400.9,2563.9 404.2,2564.4 407.5,2564.8 410.8,2565.2 414.1,2565.5 417.4,2565.9 420.7,2566.3 424.1,2566.6 427.4,2567 430.7,2567.3 434,2567.6 437.3,2567.9 440.6,2568.2 443.9,2568.5 447.2,2568.8 450.5,2569 453.8,2569.3" fill="none" stroke="#5f9e99" stroke-width="2"/>
<path d="M213.1,2482.5 V2498.7 M208.1,2482.5 h10 M208.1,2498.7 h10" stroke="#5f9e99" stroke-width="2" fill="none"/>
<rect x="208.6" y="2486.1" width="9" height="9" fill="#5f9e99"/>
<rect x="248.7" y="2531.1" width="9" height="9" fill="#5f9e99"/>
<rect x="288.9" y="2533.5" width="9" height="9" fill="#5f9e99"/>
<rect x="329" y="2537.7" width="9" height="9" fill="#5f9e99"/>
<rect x="369.1" y="2545.3" width="9" height="9" fill="#5f9e99"/>
<rect x="409.2" y="2568.1" width="9" height="9" fill="#5f9e99"/>
<rect x="449.3" y="2570.7" width="9" height="9" fill="#5f9e99"/>
<polyline points="173,2478.8 177.7,2479.1 182.5,2479.4 187.3,2479.7 192,2480 196.8,2480.3 201.5,2480.6 206.3,2480.9 211.1,2481.2 215.8,2481.5 220.6,2481.8 225.4,2482.1 230.1,2482.4 234.9,2482.7 239.6,2483.1 244.4,2483.4 249.2,2483.8 253.9,2484.2 258.7,2484.7 263.4,2485.2 268.2,2485.7 273,2486.2 277.7,2486.8 282.5,2487.4 287.2,2488 292,2488.6 296.8,2489.2 301.5,2489.9 306.3,2490.5 311,2491.2 315.8,2491.9 320.6,2492.7 325.3,2493.5 330.1,2494.3 334.8,2495.1 339.6,2496.1 344.4,2497.2 349.1,2498.4 353.9,2499.6 358.6,2500.7 363.4,2501.9 368.2,2503 372.9,2503.9 377.7,2504.8 382.4,2505.6 387.2,2506.4 392,2507.1 396.7,2507.8 401.5,2508.5 406.2,2509.2 411,2509.8 415.8,2510.4 420.5,2511 425.3,2511.6 430,2512.1 434.8,2512.7 439.6,2513.2 444.3,2513.7 449.1,2514.2 453.8,2514.8" fill="none" stroke="#111" stroke-width="2" stroke-dasharray="6 4.5"/>
<circle cx="173" cy="2479.3" r="4.8" fill="#fff" stroke="#111" stroke-width="2.3"/>
<circle cx="213.1" cy="2478.8" r="4.8" fill="#fff" stroke="#111" stroke-width="2.3"/>
<path d="M253.2,2480.3 V2489.5 M248.2,2480.3 h10 M248.2,2489.5 h10" stroke="#111" stroke-width="2" fill="none"/>
<circle cx="253.2" cy="2484.9" r="4.8" fill="#fff" stroke="#111" stroke-width="2.3"/>
<path d="M293.4,2475.3 V2505.3 M288.4,2475.3 h10 M288.4,2505.3 h10" stroke="#111" stroke-width="2" fill="none"/>
<circle cx="293.4" cy="2490.3" r="4.8" fill="#fff" stroke="#111" stroke-width="2.3"/>
<path d="M333.5,2476.8 V2507.4 M328.5,2476.8 h10 M328.5,2507.4 h10" stroke="#111" stroke-width="2" fill="none"/>
<circle cx="333.5" cy="2492.1" r="4.8" fill="#fff" stroke="#111" stroke-width="2.3"/>
<circle cx="373.6" cy="2506.2" r="4.8" fill="#fff" stroke="#111" stroke-width="2.3"/>
<circle cx="413.7" cy="2508.6" r="4.8" fill="#fff" stroke="#111" stroke-width="2.3"/>
<path d="M453.8,2501.1 V2529.9 M448.8,2501.1 h10 M448.8,2529.9 h10" stroke="#111" stroke-width="2" fill="none"/>
<circle cx="453.8" cy="2515.5" r="4.8" fill="#fff" stroke="#111" stroke-width="2.3"/>
<text x="642.5" y="2368.3" font-size="22" font-weight="bold" fill="#111" textLength="242.6" lengthAdjust="spacingAndGlyphs">XBB.1 pseudoviruses</text>
<path d="M582,2401.5 V2631.1 H926.4" fill="none" stroke="#111" stroke-width="2"/>
<line x1="573" y1="2631.1" x2="582" y2="2631.1" stroke="#111" stroke-width="2"/>
<text x="572" y="2637.9" font-size="19.5" text-anchor="end" fill="#111" stroke="#111" stroke-width="0.3">0</text>
<line x1="573" y1="2554.6" x2="582" y2="2554.6" stroke="#111" stroke-width="2"/>
<text x="572" y="2561.4" font-size="19.5" text-anchor="end" fill="#111" stroke="#111" stroke-width="0.3">50</text>
<line x1="573" y1="2478" x2="582" y2="2478" stroke="#111" stroke-width="2"/>
<text x="572" y="2484.8" font-size="19.5" text-anchor="end" fill="#111" stroke="#111" stroke-width="0.3">100</text>
<line x1="573" y1="2401.5" x2="582" y2="2401.5" stroke="#111" stroke-width="2"/>
<text x="572" y="2408.3" font-size="19.5" text-anchor="end" fill="#111" stroke="#111" stroke-width="0.3">150</text>
<line x1="582" y1="2631.1" x2="582" y2="2640.1" stroke="#111" stroke-width="2"/>
<text x="581" y="2663.3" font-size="20" text-anchor="middle" fill="#111" stroke="#111" stroke-width="0.3">10<tspan font-size="14" dy="-8">-4</tspan></text>
<line x1="696.8" y1="2631.1" x2="696.8" y2="2640.1" stroke="#111" stroke-width="2"/>
<text x="695.8" y="2663.3" font-size="20" text-anchor="middle" fill="#111" stroke="#111" stroke-width="0.3">10<tspan font-size="14" dy="-8">-2</tspan></text>
<line x1="811.6" y1="2631.1" x2="811.6" y2="2640.1" stroke="#111" stroke-width="2"/>
<text x="810.6" y="2663.3" font-size="20" text-anchor="middle" fill="#111" stroke="#111" stroke-width="0.3">10<tspan font-size="14" dy="-8">0</tspan></text>
<line x1="926.4" y1="2631.1" x2="926.4" y2="2640.1" stroke="#111" stroke-width="2"/>
<text x="925.4" y="2663.3" font-size="20" text-anchor="middle" fill="#111" stroke="#111" stroke-width="0.3">10<tspan font-size="14" dy="-8">2</tspan></text>
<text x="766.7" y="2686.9" font-size="20" text-anchor="middle" fill="#111" stroke="#111" stroke-width="0.3">Concentration  (µg/mL)</text>
<polyline points="611.6,2473.9 616.4,2474 621.1,2474 625.9,2474.1 630.6,2474.1 635.4,2474.3 640.1,2474.5 644.9,2475.1 649.6,2475.9 654.4,2478.8 659.1,2483.8 663.9,2487.7 668.6,2491.3 673.4,2494.8 678.1,2498.4 682.9,2501.9 687.6,2505.3 692.4,2508.4 697.1,2511.6 701.9,2514.6 706.6,2517.7 711.4,2520.6 716.1,2523.4 720.9,2526.1 725.6,2528.7 730.4,2531 735.1,2533.2 739.9,2535.2 744.6,2537.1 749.4,2539 754.1,2540.7 758.9,2542.4 763.6,2544.1 768.4,2545.7 773.1,2547.3 777.9,2548.9 782.6,2550.4 787.4,2551.9 792.1,2553.4 796.9,2554.8 801.6,2556.2 806.4,2557.6 811.1,2558.9 815.9,2560.3 820.6,2561.7 825.4,2563 830.1,2564.4 834.8,2565.7 839.6,2567 844.3,2568.2 849.1,2569.3 853.8,2570.4 858.6,2571.4 863.3,2572.4 868.1,2573.3 872.8,2574.2 877.6,2575.1 882.3,2576 887.1,2576.9 891.8,2577.8" fill="none" stroke="#5f9e99" stroke-width="2"/>
<rect x="646.6" y="2471.1" width="9" height="9" fill="#5f9e99"/>
<path d="M691.2,2499.3 V2529.9 M686.2,2499.3 h10 M686.2,2529.9 h10" stroke="#5f9e99" stroke-width="2" fill="none"/>
<rect x="686.7" y="2510.1" width="9" height="9" fill="#5f9e99"/>
<rect x="726.9" y="2538.3" width="9" height="9" fill="#5f9e99"/>
<rect x="767" y="2536.6" width="9" height="9" fill="#5f9e99"/>
<rect x="807.1" y="2547" width="9" height="9" fill="#5f9e99"/>
<path d="M851.7,2553.8 V2569.1 M846.7,2553.8 h10 M846.7,2569.1 h10" stroke="#5f9e99" stroke-width="2" fill="none"/>
<rect x="847.2" y="2557" width="9" height="9" fill="#5f9e99"/>
<rect x="887.3" y="2586" width="9" height="9" fill="#5f9e99"/>
<polyline points="611,2474.1 615.7,2474.9 620.5,2475.6 625.3,2476.3 630,2477.1 634.8,2477.8 639.5,2478.6 644.3,2479.6 649.1,2480.6 653.8,2481.8 658.6,2483.5 663.4,2485.4 668.1,2487.6 672.9,2489.9 677.6,2492.2 682.4,2494.4 687.2,2496.4 691.9,2498.2 696.7,2499.7 701.4,2501.2 706.2,2502.6 711,2503.9 715.7,2505.2 720.5,2506.5 725.2,2507.7 730,2509 734.8,2510.3 739.5,2511.7 744.3,2512.9 749,2514.2 753.8,2515.5 758.6,2516.8 763.3,2518 768.1,2519.2 772.8,2520.5 777.6,2521.7 782.4,2523 787.1,2524.2 791.9,2525.5 796.6,2526.7 801.4,2527.8 806.2,2528.9 810.9,2529.9 815.7,2530.9 820.4,2531.8 825.2,2532.7 830,2533.5 834.7,2534.3 839.5,2535.1 844.2,2535.8 849,2536.6 853.8,2537.3 858.5,2538 863.3,2538.6 868,2539.2 872.8,2539.9 877.6,2540.5 882.3,2541.1 887.1,2541.7 891.8,2542.3" fill="none" stroke="#111" stroke-width="2" stroke-dasharray="6 4.5"/>
<path d="M611,2469.5 V2478.6 M606,2469.5 h10 M606,2478.6 h10" stroke="#111" stroke-width="2" fill="none"/>
<circle cx="611" cy="2474.1" r="4.8" fill="#fff" stroke="#111" stroke-width="2.3"/>
<path d="M651.1,2475.7 V2488 M646.1,2475.7 h10 M646.1,2488 h10" stroke="#111" stroke-width="2" fill="none"/>
<circle cx="651.1" cy="2481.9" r="4.8" fill="#fff" stroke="#111" stroke-width="2.3"/>
<path d="M691.2,2492.9 V2505.1 M686.2,2492.9 h10 M686.2,2505.1 h10" stroke="#111" stroke-width="2" fill="none"/>
<circle cx="691.2" cy="2499" r="4.8" fill="#fff" stroke="#111" stroke-width="2.3"/>
<path d="M731.4,2502.5 V2517.8 M726.4,2502.5 h10 M726.4,2517.8 h10" stroke="#111" stroke-width="2" fill="none"/>
<circle cx="731.4" cy="2510.2" r="4.8" fill="#fff" stroke="#111" stroke-width="2.3"/>
<path d="M771.5,2510.8 V2529.2 M766.5,2510.8 h10 M766.5,2529.2 h10" stroke="#111" stroke-width="2" fill="none"/>
<circle cx="771.5" cy="2520" r="4.8" fill="#fff" stroke="#111" stroke-width="2.3"/>
<path d="M811.6,2524.1 V2542.5 M806.6,2524.1 h10 M806.6,2542.5 h10" stroke="#111" stroke-width="2" fill="none"/>
<circle cx="811.6" cy="2533.3" r="4.8" fill="#fff" stroke="#111" stroke-width="2.3"/>
<path d="M851.7,2530.7 V2542.9 M846.7,2530.7 h10 M846.7,2542.9 h10" stroke="#111" stroke-width="2" fill="none"/>
<circle cx="851.7" cy="2536.8" r="4.8" fill="#fff" stroke="#111" stroke-width="2.3"/>
<path d="M891.8,2533.9 V2549.2 M886.8,2533.9 h10 M886.8,2549.2 h10" stroke="#111" stroke-width="2" fill="none"/>
<circle cx="891.8" cy="2541.6" r="4.8" fill="#fff" stroke="#111" stroke-width="2.3"/>
<text x="1094" y="2368.3" font-size="22" font-weight="bold" fill="#111" textLength="274.6" lengthAdjust="spacingAndGlyphs">XBB.1.16 pseudoviruses</text>
<path d="M1049.2,2401.5 V2631.1 H1393.6" fill="none" stroke="#111" stroke-width="2"/>
<line x1="1040.2" y1="2631.1" x2="1049.2" y2="2631.1" stroke="#111" stroke-width="2"/>
<text x="1039.2" y="2637.9" font-size="19.5" text-anchor="end" fill="#111" stroke="#111" stroke-width="0.3">0</text>
<line x1="1040.2" y1="2554.6" x2="1049.2" y2="2554.6" stroke="#111" stroke-width="2"/>
<text x="1039.2" y="2561.4" font-size="19.5" text-anchor="end" fill="#111" stroke="#111" stroke-width="0.3">50</text>
<line x1="1040.2" y1="2478" x2="1049.2" y2="2478" stroke="#111" stroke-width="2"/>
<text x="1039.2" y="2484.8" font-size="19.5" text-anchor="end" fill="#111" stroke="#111" stroke-width="0.3">100</text>
<line x1="1040.2" y1="2401.5" x2="1049.2" y2="2401.5" stroke="#111" stroke-width="2"/>
<text x="1039.2" y="2408.3" font-size="19.5" text-anchor="end" fill="#111" stroke="#111" stroke-width="0.3">150</text>
<line x1="1049.2" y1="2631.1" x2="1049.2" y2="2640.1" stroke="#111" stroke-width="2"/>
<text x="1048.2" y="2663.3" font-size="20" text-anchor="middle" fill="#111" stroke="#111" stroke-width="0.3">10<tspan font-size="14" dy="-8">-4</tspan></text>
<line x1="1164" y1="2631.1" x2="1164" y2="2640.1" stroke="#111" stroke-width="2"/>
<text x="1163" y="2663.3" font-size="20" text-anchor="middle" fill="#111" stroke="#111" stroke-width="0.3">10<tspan font-size="14" dy="-8">-2</tspan></text>
<line x1="1278.8" y1="2631.1" x2="1278.8" y2="2640.1" stroke="#111" stroke-width="2"/>
<text x="1277.8" y="2663.3" font-size="20" text-anchor="middle" fill="#111" stroke="#111" stroke-width="0.3">10<tspan font-size="14" dy="-8">0</tspan></text>
<line x1="1393.6" y1="2631.1" x2="1393.6" y2="2640.1" stroke="#111" stroke-width="2"/>
<text x="1392.6" y="2663.3" font-size="20" text-anchor="middle" fill="#111" stroke="#111" stroke-width="0.3">10<tspan font-size="14" dy="-8">2</tspan></text>
<text x="1233.9" y="2686.9" font-size="20" text-anchor="middle" fill="#111" stroke="#111" stroke-width="0.3">Concentration  (µg/mL)</text>
<polyline points="1072.2,2485.5 1075.8,2486.8 1079.4,2488.1 1083.1,2489.4 1086.7,2490.7 1090.3,2492 1093.9,2493.3 1097.6,2494.6 1101.2,2495.9 1104.8,2497.2 1108.5,2498.4 1112.1,2499.7 1115.7,2500.9 1119.4,2502.1 1123,2503.4 1126.6,2504.6 1130.3,2505.8 1133.9,2507 1137.5,2508.1 1141.2,2509.3 1144.8,2510.5 1148.4,2511.6 1152.1,2512.7 1155.7,2513.9 1159.3,2515 1162.9,2516.1 1166.6,2517.2 1170.2,2518.2 1173.8,2519.3 1177.5,2520.4 1181.1,2521.4 1184.7,2522.4 1188.4,2523.4 1192,2524.5 1195.6,2525.4 1199.3,2526.4 1202.9,2527.4 1206.5,2528.4 1210.2,2529.3 1213.8,2530.2 1217.4,2531.2 1221,2532.1 1224.7,2533 1228.3,2533.9 1231.9,2534.7 1235.6,2535.6 1239.2,2536.4 1242.8,2537.3 1246.5,2538.1 1250.1,2538.9 1253.7,2539.7 1257.4,2540.5 1261,2541.3 1264.6,2542.1 1268.3,2542.8 1271.9,2543.6 1275.5,2544.3 1279.2,2545 1282.8,2545.7 1286.4,2546.4 1290,2547.1 1293.7,2547.8 1297.3,2548.5 1300.9,2549.1 1304.6,2549.8 1308.2,2550.4 1311.8,2551 1315.5,2551.6 1319.1,2552.2 1322.7,2552.8 1326.4,2553.4 1330,2554 1333.6,2554.6 1337.3,2555.1 1340.9,2555.7 1344.5,2556.2 1348.2,2556.7 1351.8,2557.3 1355.4,2557.8 1359,2558.3" fill="none" stroke="#5f9e99" stroke-width="2"/>
<rect x="1073.7" y="2480.7" width="9" height="9" fill="#5f9e99"/>
<path d="M1118.3,2498.2 V2519.7 M1113.3,2498.2 h10 M1113.3,2519.7 h10" stroke="#5f9e99" stroke-width="2" fill="none"/>
<rect x="1113.8" y="2504.5" width="9" height="9" fill="#5f9e99"/>
<rect x="1153.9" y="2518.5" width="9" height="9" fill="#5f9e99"/>
<rect x="1194.1" y="2525.4" width="9" height="9" fill="#5f9e99"/>
<rect x="1234.2" y="2527.4" width="9" height="9" fill="#5f9e99"/>
<rect x="1274.3" y="2538.9" width="9" height="9" fill="#5f9e99"/>
<rect x="1314.4" y="2549" width="9" height="9" fill="#5f9e99"/>
<rect x="1354.5" y="2557.7" width="9" height="9" fill="#5f9e99"/>
<polyline points="1078.2,2478.3 1082.9,2478.5 1087.7,2478.7 1092.5,2478.8 1097.2,2479 1102,2479.1 1106.7,2479.3 1111.5,2479.5 1116.3,2479.8 1121,2480 1125.8,2480.4 1130.6,2480.8 1135.3,2481.3 1140.1,2481.9 1144.8,2482.4 1149.6,2483 1154.4,2483.6 1159.1,2484.2 1163.9,2484.9 1168.6,2485.5 1173.4,2486.2 1178.2,2487 1182.9,2487.7 1187.7,2488.5 1192.4,2489.3 1197.2,2490.1 1202,2490.8 1206.7,2491.7 1211.5,2492.6 1216.2,2493.5 1221,2494.4 1225.8,2495.2 1230.5,2496 1235.3,2496.7 1240,2497.3 1244.8,2497.9 1249.6,2498.4 1254.3,2498.8 1259.1,2499.3 1263.8,2499.7 1268.6,2500.1 1273.4,2500.5 1278.1,2500.9 1282.9,2501.4 1287.6,2501.8 1292.4,2502.2 1297.2,2502.7 1301.9,2503.1 1306.7,2503.5 1311.4,2503.9 1316.2,2504.4 1321,2504.9 1325.7,2505.4 1330.5,2505.9 1335.2,2506.4 1340,2506.9 1344.8,2507.4 1349.5,2507.9 1354.3,2508.4 1359,2509" fill="none" stroke="#111" stroke-width="2" stroke-dasharray="6 4.5"/>
<circle cx="1078.2" cy="2478.3" r="4.8" fill="#fff" stroke="#111" stroke-width="2.3"/>
<circle cx="1118.3" cy="2479.9" r="4.8" fill="#fff" stroke="#111" stroke-width="2.3"/>
<path d="M1158.4,2481.9 V2491 M1153.4,2481.9 h10 M1153.4,2491 h10" stroke="#111" stroke-width="2" fill="none"/>
<circle cx="1158.4" cy="2486.5" r="4.8" fill="#fff" stroke="#111" stroke-width="2.3"/>
<path d="M1198.6,2476.3 V2497.8 M1193.6,2476.3 h10 M1193.6,2497.8 h10" stroke="#111" stroke-width="2" fill="none"/>
<circle cx="1198.6" cy="2487.1" r="4.8" fill="#fff" stroke="#111" stroke-width="2.3"/>
<circle cx="1238.7" cy="2498.4" r="4.8" fill="#fff" stroke="#111" stroke-width="2.3"/>
<circle cx="1278.8" cy="2500.8" r="4.8" fill="#fff" stroke="#111" stroke-width="2.3"/>
<path d="M1318.9,2499.8 V2509 M1313.9,2499.8 h10 M1313.9,2509 h10" stroke="#111" stroke-width="2" fill="none"/>
<circle cx="1318.9" cy="2504.4" r="4.8" fill="#fff" stroke="#111" stroke-width="2.3"/>
<circle cx="1359" cy="2509" r="4.8" fill="#fff" stroke="#111" stroke-width="2.3"/>
<text x="1555.6" y="2368.6" font-size="22" font-weight="bold" fill="#111" textLength="313.6" lengthAdjust="spacingAndGlyphs">SARS-CoV-1 pseudoviruses</text>
<path d="M1526,2401.5 V2631.1 H1870.4" fill="none" stroke="#111" stroke-width="2"/>
<line x1="1517" y1="2631.1" x2="1526" y2="2631.1" stroke="#111" stroke-width="2"/>
<text x="1516" y="2637.9" font-size="19.5" text-anchor="end" fill="#111" stroke="#111" stroke-width="0.3">0</text>
<line x1="1517" y1="2554.6" x2="1526" y2="2554.6" stroke="#111" stroke-width="2"/>
<text x="1516" y="2561.4" font-size="19.5" text-anchor="end" fill="#111" stroke="#111" stroke-width="0.3">50</text>
<line x1="1517" y1="2478" x2="1526" y2="2478" stroke="#111" stroke-width="2"/>
<text x="1516" y="2484.8" font-size="19.5" text-anchor="end" fill="#111" stroke="#111" stroke-width="0.3">100</text>
<line x1="1517" y1="2401.5" x2="1526" y2="2401.5" stroke="#111" stroke-width="2"/>
<text x="1516" y="2408.3" font-size="19.5" text-anchor="end" fill="#111" stroke="#111" stroke-width="0.3">150</text>
<line x1="1526" y1="2631.1" x2="1526" y2="2640.1" stroke="#111" stroke-width="2"/>
<text x="1525" y="2663.3" font-size="20" text-anchor="middle" fill="#111" stroke="#111" stroke-width="0.3">10<tspan font-size="14" dy="-8">-4</tspan></text>
<line x1="1640.8" y1="2631.1" x2="1640.8" y2="2640.1" stroke="#111" stroke-width="2"/>
<text x="1639.8" y="2663.3" font-size="20" text-anchor="middle" fill="#111" stroke="#111" stroke-width="0.3">10<tspan font-size="14" dy="-8">-2</tspan></text>
<line x1="1755.6" y1="2631.1" x2="1755.6" y2="2640.1" stroke="#111" stroke-width="2"/>
<text x="1754.6" y="2663.3" font-size="20" text-anchor="middle" fill="#111" stroke="#111" stroke-width="0.3">10<tspan font-size="14" dy="-8">0</tspan></text>
<line x1="1870.4" y1="2631.1" x2="1870.4" y2="2640.1" stroke="#111" stroke-width="2"/>
<text x="1869.4" y="2663.3" font-size="20" text-anchor="middle" fill="#111" stroke="#111" stroke-width="0.3">10<tspan font-size="14" dy="-8">2</tspan></text>
<text x="1710.7" y="2686.9" font-size="20" text-anchor="middle" fill="#111" stroke="#111" stroke-width="0.3">Concentration  (µg/mL)</text>
<polyline points="1555,2466.4 1558.5,2466.5 1562.1,2466.6 1565.7,2466.8 1569.2,2466.9 1572.8,2467.1 1576.3,2467.4 1579.9,2467.6 1583.4,2468 1587,2468.3 1590.5,2468.8 1594.1,2469.3 1597.6,2469.9 1601.2,2470.6 1604.8,2471.4 1608.3,2472.3 1611.9,2473.4 1615.4,2474.6 1619,2476.1 1622.5,2477.7 1626.1,2479.6 1629.6,2481.7 1633.2,2484.1 1636.8,2486.8 1640.3,2489.8 1643.9,2493.2 1647.4,2496.8 1651,2500.8 1654.5,2505 1658.1,2509.5 1661.6,2514.2 1665.2,2519.1 1668.8,2524.1 1672.3,2529.1 1675.9,2534.1 1679.4,2539 1683,2543.8 1686.5,2548.3 1690.1,2552.6 1693.6,2556.6 1697.2,2560.3 1700.7,2563.7 1704.3,2566.8 1707.9,2569.5 1711.4,2572 1715,2574.2 1718.5,2576.1 1722.1,2577.8 1725.6,2579.3 1729.2,2580.6 1732.7,2581.7 1736.3,2582.6 1739.9,2583.5 1743.4,2584.2 1747,2584.8 1750.5,2585.3 1754.1,2585.7 1757.6,2586.1 1761.2,2586.4 1764.7,2586.7 1768.3,2587 1771.9,2587.2 1775.4,2587.3 1779,2587.5 1782.5,2587.6 1786.1,2587.7 1789.6,2587.8 1793.2,2587.9 1796.7,2587.9 1800.3,2588 1803.8,2588 1807.4,2588.1 1811,2588.1 1814.5,2588.1 1818.1,2588.2 1821.6,2588.2 1825.2,2588.2 1828.7,2588.2 1832.3,2588.2 1835.8,2588.2" fill="none" stroke="#5f9e99" stroke-width="2"/>
<rect x="1550.5" y="2473.7" width="9" height="9" fill="#5f9e99"/>
<path d="M1595.1,2464.4 V2479.7 M1590.1,2464.4 h10 M1590.1,2479.7 h10" stroke="#5f9e99" stroke-width="2" fill="none"/>
<rect x="1590.6" y="2467.6" width="9" height="9" fill="#5f9e99"/>
<path d="M1635.2,2472.2 V2490.6 M1630.2,2472.2 h10 M1630.2,2490.6 h10" stroke="#5f9e99" stroke-width="2" fill="none"/>
<rect x="1630.7" y="2476.9" width="9" height="9" fill="#5f9e99"/>
<path d="M1675.4,2532.1 V2544.3 M1670.4,2532.1 h10 M1670.4,2544.3 h10" stroke="#5f9e99" stroke-width="2" fill="none"/>
<rect x="1670.9" y="2533.7" width="9" height="9" fill="#5f9e99"/>
<rect x="1711" y="2572.4" width="9" height="9" fill="#5f9e99"/>
<rect x="1751.1" y="2578.8" width="9" height="9" fill="#5f9e99"/>
<path d="M1795.7,2558.1 V2610.1 M1790.7,2558.1 h10 M1790.7,2610.1 h10" stroke="#5f9e99" stroke-width="2" fill="none"/>
<rect x="1791.2" y="2579.6" width="9" height="9" fill="#5f9e99"/>
<path d="M1835.8,2576.1 V2603.7 M1830.8,2576.1 h10 M1830.8,2603.7 h10" stroke="#5f9e99" stroke-width="2" fill="none"/>
<rect x="1831.3" y="2585.4" width="9" height="9" fill="#5f9e99"/>
<polyline points="1555,2462 1559.7,2462.1 1564.5,2462.3 1569.3,2462.4 1574,2462.6 1578.8,2462.7 1583.5,2462.9 1588.3,2463.1 1593.1,2463.4 1597.8,2463.7 1602.6,2464.1 1607.4,2464.6 1612.1,2465.2 1616.9,2465.9 1621.6,2466.7 1626.4,2467.6 1631.2,2468.6 1635.9,2469.8 1640.7,2471.5 1645.4,2473.9 1650.2,2476.9 1655,2480.4 1659.7,2484.1 1664.5,2488 1669.2,2491.9 1674,2495.7 1678.8,2499.4 1683.5,2503.4 1688.3,2507.7 1693,2512.2 1697.8,2516.6 1702.6,2520.9 1707.3,2525 1712.1,2528.8 1716.8,2532.1 1721.6,2535.3 1726.4,2538.5 1731.1,2541.6 1735.9,2544.6 1740.6,2547.3 1745.4,2549.6 1750.2,2551.4 1754.9,2552.7 1759.7,2553.6 1764.4,2554.4 1769.2,2555.2 1774,2555.8 1778.7,2556.4 1783.5,2556.8 1788.2,2557.2 1793,2557.5 1797.8,2557.7 1802.5,2557.9 1807.3,2558 1812,2558.2 1816.8,2558.3 1821.6,2558.4 1826.3,2558.5 1831.1,2558.6 1835.8,2558.7" fill="none" stroke="#111" stroke-width="2" stroke-dasharray="6 4.5"/>
<circle cx="1555" cy="2462" r="4.8" fill="#fff" stroke="#111" stroke-width="2.3"/>
<path d="M1595.1,2451.9 V2477.9 M1590.1,2451.9 h10 M1590.1,2477.9 h10" stroke="#111" stroke-width="2" fill="none"/>
<circle cx="1595.1" cy="2464.9" r="4.8" fill="#fff" stroke="#111" stroke-width="2.3"/>
<path d="M1635.2,2436.7 V2491.8 M1630.2,2436.7 h10 M1630.2,2491.8 h10" stroke="#111" stroke-width="2" fill="none"/>
<circle cx="1635.2" cy="2464.3" r="4.8" fill="#fff" stroke="#111" stroke-width="2.3"/>
<path d="M1675.4,2494.7 V2533.3 M1670.4,2494.7 h10 M1670.4,2533.3 h10" stroke="#111" stroke-width="2" fill="none"/>
<circle cx="1675.4" cy="2514" r="4.8" fill="#fff" stroke="#111" stroke-width="2.3"/>
<path d="M1715.5,2510 V2539.7 M1710.5,2510 h10 M1710.5,2539.7 h10" stroke="#111" stroke-width="2" fill="none"/>
<circle cx="1715.5" cy="2524.9" r="4.8" fill="#fff" stroke="#111" stroke-width="2.3"/>
<path d="M1755.6,2534.2 V2546.5 M1750.6,2534.2 h10 M1750.6,2546.5 h10" stroke="#111" stroke-width="2" fill="none"/>
<circle cx="1755.6" cy="2540.3" r="4.8" fill="#fff" stroke="#111" stroke-width="2.3"/>
<path d="M1795.7,2550.7 V2566 M1790.7,2550.7 h10 M1790.7,2566 h10" stroke="#111" stroke-width="2" fill="none"/>
<circle cx="1795.7" cy="2558.4" r="4.8" fill="#fff" stroke="#111" stroke-width="2.3"/>
<circle cx="1835.8" cy="2574.6" r="4.8" fill="#fff" stroke="#111" stroke-width="2.3"/>
<line x1="1866.3" y1="2418.1" x2="1888" y2="2418.1" stroke="#111" stroke-width="2"/>
<circle cx="1879" cy="2418.1" r="4.6" fill="#fff" stroke="#111" stroke-width="2"/>
<text x="1906" y="2424.8" font-size="19.5" fill="#111" >S309</text>
<line x1="1866.3" y1="2449" x2="1888" y2="2449" stroke="#5f9e99" stroke-width="2"/>
<rect x="1874.5" y="2444.5" width="9" height="9" fill="#5f9e99"/>
<text x="1906" y="2455.7" font-size="19.5" fill="#111" >S309-v13</text>
</svg>
</body></html>
